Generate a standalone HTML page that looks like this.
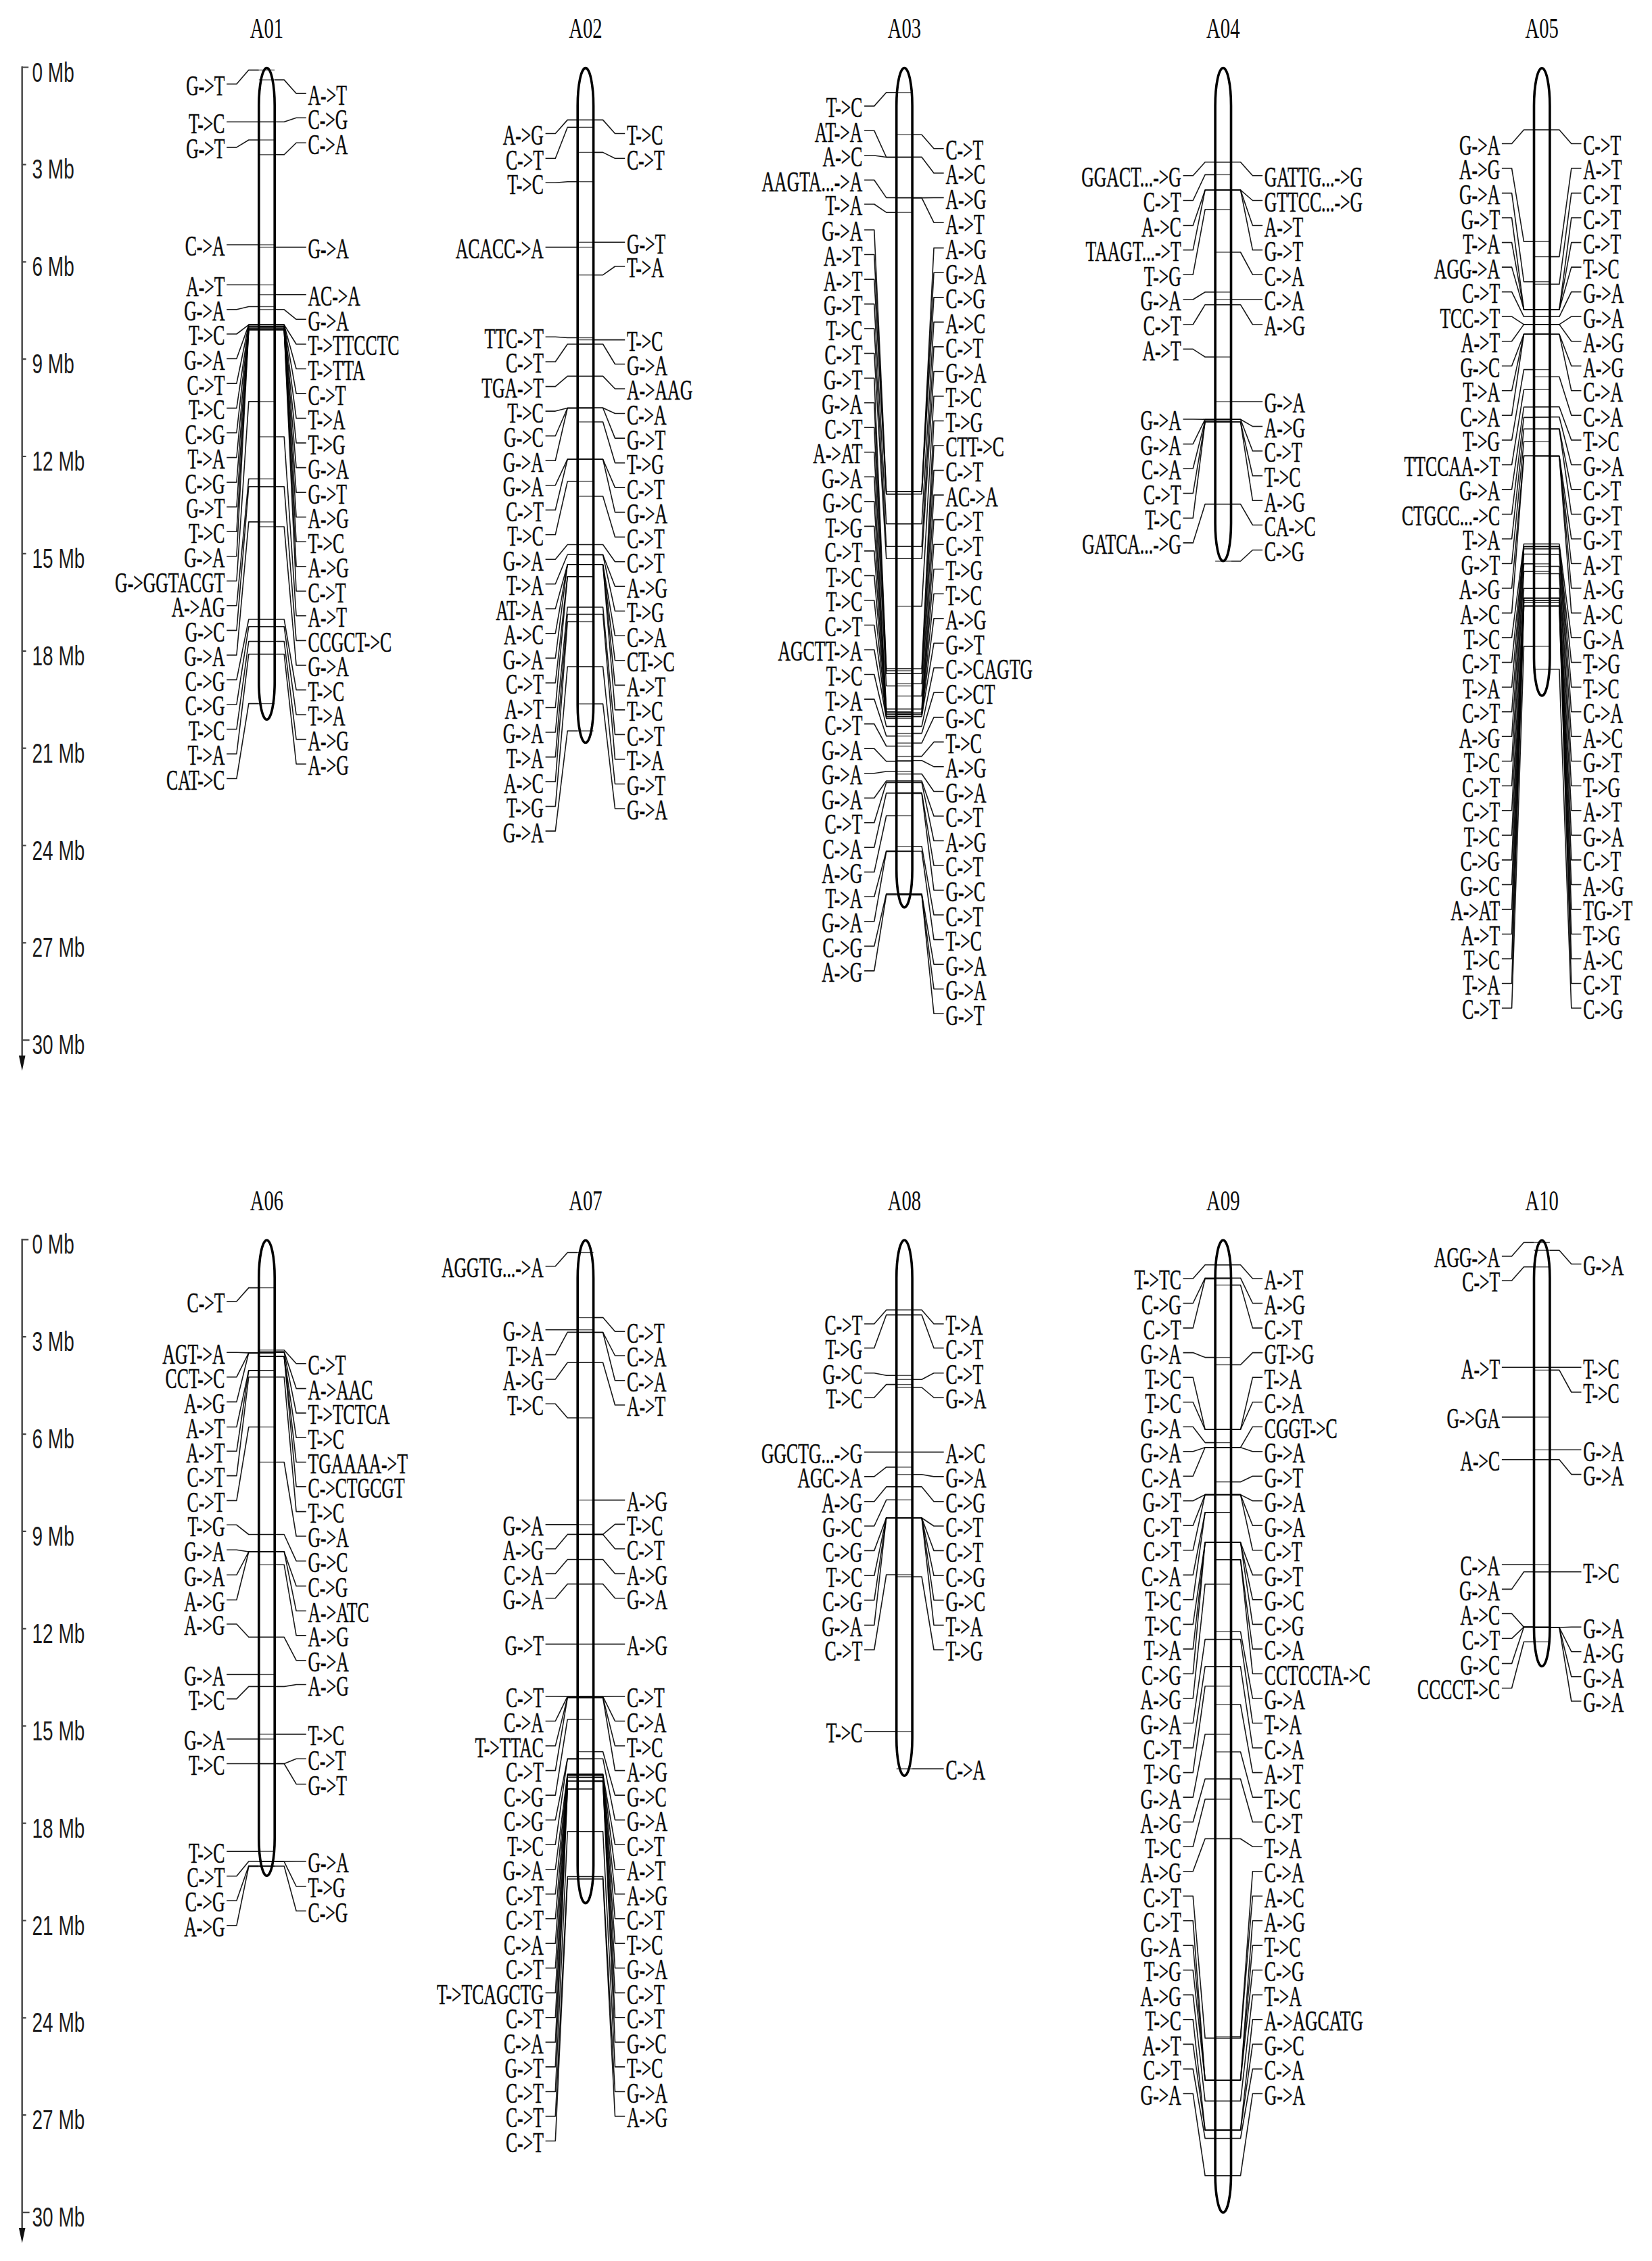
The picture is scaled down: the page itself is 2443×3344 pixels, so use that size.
<!DOCTYPE html>
<html lang="en"><head><meta charset="utf-8"><title>Chromosome variant map A01-A10</title>
<style>html,body{margin:0;padding:0;background:#fff}svg{display:block}.lb{font-family:"Liberation Serif","DejaVu Serif",serif;font-size:41.2px;fill:#0a0a0a;stroke:#0a0a0a;stroke-width:0.5px}.ti{font-family:"Liberation Serif","DejaVu Serif",serif;font-size:42.5px;fill:#0a0a0a}.ax{font-family:"Liberation Sans","DejaVu Sans",sans-serif;font-size:40px;fill:#1c1c1c}.cn{fill:none;stroke:#000;stroke-width:1.6;stroke-linejoin:round;stroke-opacity:0.9}.in{fill:none;stroke:#000;stroke-width:1.4;stroke-opacity:0.7}.ch{fill:none;stroke:#000;stroke-width:3.6}</style></head><body>
<svg width="2443" height="3344" viewBox="0 0 2443 3344">
<rect width="2443" height="3344" fill="#fff"/>
<g>
<g class="axis">
<path d="M32.7 98.3 V1564.3" fill="none" stroke="#555" stroke-width="2.7"/>
<path d="M32.7 99.5 H42.2 M32.7 243.4 H38.6 M32.7 387.3 H38.6 M32.7 531.1 H38.6 M32.7 675 H38.6 M32.7 818.9 H38.6 M32.7 962.8 H38.6 M32.7 1106.7 H38.6 M32.7 1250.5 H38.6 M32.7 1394.4 H38.6 M32.7 1538.3 H43.6" fill="none" stroke="#444" stroke-width="2.2"/>
<path d="M27.9 1561.3 L37.5 1561.3 L32.7 1583.8 Z" fill="#111"/>
<text class="ax" transform="translate(47.5 120.5) scale(0.7 1)">0 Mb</text>
<text class="ax" transform="translate(47.5 264.4) scale(0.7 1)">3 Mb</text>
<text class="ax" transform="translate(47.5 408.3) scale(0.7 1)">6 Mb</text>
<text class="ax" transform="translate(47.5 552.1) scale(0.7 1)">9 Mb</text>
<text class="ax" transform="translate(47.5 696) scale(0.7 1)">12 Mb</text>
<text class="ax" transform="translate(47.5 839.9) scale(0.7 1)">15 Mb</text>
<text class="ax" transform="translate(47.5 983.8) scale(0.7 1)">18 Mb</text>
<text class="ax" transform="translate(47.5 1127.7) scale(0.7 1)">21 Mb</text>
<text class="ax" transform="translate(47.5 1271.5) scale(0.7 1)">24 Mb</text>
<text class="ax" transform="translate(47.5 1415.4) scale(0.7 1)">27 Mb</text>
<text class="ax" transform="translate(47.5 1559.3) scale(0.7 1)">30 Mb</text>
</g>
<g class="axis">
<path d="M32.7 1832.1 V3298.1" fill="none" stroke="#555" stroke-width="2.7"/>
<path d="M32.7 1833.3 H42.2 M32.7 1977.2 H38.6 M32.7 2121.1 H38.6 M32.7 2264.9 H38.6 M32.7 2408.8 H38.6 M32.7 2552.7 H38.6 M32.7 2696.6 H38.6 M32.7 2840.5 H38.6 M32.7 2984.3 H38.6 M32.7 3128.2 H38.6 M32.7 3272.1 H43.6" fill="none" stroke="#444" stroke-width="2.2"/>
<path d="M27.9 3295.1 L37.5 3295.1 L32.7 3317.6 Z" fill="#111"/>
<text class="ax" transform="translate(47.5 1854.3) scale(0.7 1)">0 Mb</text>
<text class="ax" transform="translate(47.5 1998.2) scale(0.7 1)">3 Mb</text>
<text class="ax" transform="translate(47.5 2142.1) scale(0.7 1)">6 Mb</text>
<text class="ax" transform="translate(47.5 2285.9) scale(0.7 1)">9 Mb</text>
<text class="ax" transform="translate(47.5 2429.8) scale(0.7 1)">12 Mb</text>
<text class="ax" transform="translate(47.5 2573.7) scale(0.7 1)">15 Mb</text>
<text class="ax" transform="translate(47.5 2717.6) scale(0.7 1)">18 Mb</text>
<text class="ax" transform="translate(47.5 2861.5) scale(0.7 1)">21 Mb</text>
<text class="ax" transform="translate(47.5 3005.3) scale(0.7 1)">24 Mb</text>
<text class="ax" transform="translate(47.5 3149.2) scale(0.7 1)">27 Mb</text>
<text class="ax" transform="translate(47.5 3293.1) scale(0.7 1)">30 Mb</text>
</g>
<g class="chrom" id="A01">
<text class="ti" text-anchor="middle" transform="translate(394.5 55.8) scale(0.675 1)">A01</text>
<g class="in"><path d="M382.8 103.6H406.2"/><path d="M382.8 180.3H406.2"/><path d="M382.8 207H406.2"/><path d="M382.8 362H406.2"/><path d="M382.8 421.3H406.2"/><path d="M382.8 453.5H406.2"/><path d="M382.8 480.4H406.2"/><path d="M382.8 480.4H406.2"/><path d="M382.8 480.4H406.2"/><path d="M382.8 482.8H406.2"/><path d="M382.8 482.8H406.2"/><path d="M382.8 485.2H406.2"/><path d="M382.8 485.2H406.2"/><path d="M382.8 487.6H406.2"/><path d="M382.8 487.6H406.2"/><path d="M382.8 487.6H406.2"/><path d="M382.8 593.9H406.2"/><path d="M382.8 708.2H406.2"/><path d="M382.8 719.8H406.2"/><path d="M382.8 771.9H406.2"/><path d="M382.8 916H406.2"/><path d="M382.8 926.8H406.2"/><path d="M382.8 948.6H406.2"/><path d="M382.8 967.5H406.2"/><path d="M382.8 1040.6H406.2"/><path d="M382.8 118.1H406.2"/><path d="M382.8 180.3H406.2"/><path d="M382.8 228.8H406.2"/><path d="M382.8 365.6H406.2"/><path d="M382.8 435.8H406.2"/><path d="M382.8 457.8H406.2"/><path d="M382.8 480.4H406.2"/><path d="M382.8 480.4H406.2"/><path d="M382.8 480.4H406.2"/><path d="M382.8 482.8H406.2"/><path d="M382.8 482.8H406.2"/><path d="M382.8 482.8H406.2"/><path d="M382.8 485.2H406.2"/><path d="M382.8 485.2H406.2"/><path d="M382.8 487.6H406.2"/><path d="M382.8 487.6H406.2"/><path d="M382.8 487.6H406.2"/><path d="M382.8 646H406.2"/><path d="M382.8 719.8H406.2"/><path d="M382.8 779H406.2"/><path d="M382.8 916H406.2"/><path d="M382.8 926.8H406.2"/><path d="M382.8 948.6H406.2"/><path d="M382.8 967.5H406.2"/></g>
<g class="cn"><path d="M335.2 124.2H349.9L367.8 103.6H382.8"/><path d="M335.2 180.3H349.9L367.8 180.3H382.8"/><path d="M335.2 217.9H349.9L367.8 207H382.8"/><path d="M335.2 362H349.9L367.8 362H382.8"/><path d="M335.2 421.3H349.9L367.8 421.3H382.8"/><path d="M335.2 457.8H349.9L367.8 453.5H382.8"/><path d="M335.2 494H349.9L367.8 480.4H382.8"/><path d="M335.2 530.5H349.9L367.8 480.4H382.8"/><path d="M335.2 567.1H349.9L367.8 480.4H382.8"/><path d="M335.2 603.6H349.9L367.8 482.8H382.8"/><path d="M335.2 640.1H349.9L367.8 482.8H382.8"/><path d="M335.2 676.6H349.9L367.8 485.2H382.8"/><path d="M335.2 713.2H349.9L367.8 485.2H382.8"/><path d="M335.2 749.7H349.9L367.8 487.6H382.8"/><path d="M335.2 786.2H349.9L367.8 487.6H382.8"/><path d="M335.2 822.8H349.9L367.8 487.6H382.8"/><path d="M335.2 859.3H349.9L367.8 593.9H382.8"/><path d="M335.2 895.8H349.9L367.8 708.2H382.8"/><path d="M335.2 932.4H349.9L367.8 719.8H382.8"/><path d="M335.2 968.9H349.9L367.8 771.9H382.8"/><path d="M335.2 1005.4H349.9L367.8 916H382.8"/><path d="M335.2 1042H349.9L367.8 926.8H382.8"/><path d="M335.2 1078.5H349.9L367.8 948.6H382.8"/><path d="M335.2 1115H349.9L367.8 967.5H382.8"/><path d="M335.2 1151.5H349.9L367.8 1040.6H382.8"/><path d="M452.8 138.2H438.1L420.2 118.1H406.2"/><path d="M452.8 174.3H438.1L420.2 180.3H406.2"/><path d="M452.8 211.3H438.1L420.2 228.8H406.2"/><path d="M452.8 365.6H438.1L420.2 365.6H406.2"/><path d="M452.8 435.8H438.1L420.2 435.8H406.2"/><path d="M452.8 472.3H438.1L420.2 457.8H406.2"/><path d="M452.8 509H438.1L420.2 480.4H406.2"/><path d="M452.8 545.5H438.1L420.2 480.4H406.2"/><path d="M452.8 582.1H438.1L420.2 480.4H406.2"/><path d="M452.8 618.6H438.1L420.2 482.8H406.2"/><path d="M452.8 655.1H438.1L420.2 482.8H406.2"/><path d="M452.8 691.6H438.1L420.2 482.8H406.2"/><path d="M452.8 728.2H438.1L420.2 485.2H406.2"/><path d="M452.8 764.7H438.1L420.2 485.2H406.2"/><path d="M452.8 801.2H438.1L420.2 487.6H406.2"/><path d="M452.8 837.8H438.1L420.2 487.6H406.2"/><path d="M452.8 874.3H438.1L420.2 487.6H406.2"/><path d="M452.8 910.8H438.1L420.2 646H406.2"/><path d="M452.8 947.4H438.1L420.2 719.8H406.2"/><path d="M452.8 983.9H438.1L420.2 779H406.2"/><path d="M452.8 1020.4H438.1L420.2 916H406.2"/><path d="M452.8 1057H438.1L420.2 926.8H406.2"/><path d="M452.8 1093.5H438.1L420.2 948.6H406.2"/><path d="M452.8 1130H438.1L420.2 967.5H406.2"/></g>
<path class="ch" d="M382.8 156.5A11.7 56 0 0 1 406.2 156.5V1008.2A11.7 56 0 0 1 382.8 1008.2Z"/>
<text class="lb" text-anchor="end" transform="translate(332.5 140.6) scale(0.6245 1)">G-&gt;T</text>
<text class="lb" text-anchor="end" transform="translate(332.5 196.7) scale(0.6245 1)">T-&gt;C</text>
<text class="lb" text-anchor="end" transform="translate(332.5 234.3) scale(0.6245 1)">G-&gt;T</text>
<text class="lb" text-anchor="end" transform="translate(332.5 378.4) scale(0.6245 1)">C-&gt;A</text>
<text class="lb" text-anchor="end" transform="translate(332.5 437.7) scale(0.6245 1)">A-&gt;T</text>
<text class="lb" text-anchor="end" transform="translate(332.5 474.2) scale(0.6245 1)">G-&gt;A</text>
<text class="lb" text-anchor="end" transform="translate(332.5 510.4) scale(0.6245 1)">T-&gt;C</text>
<text class="lb" text-anchor="end" transform="translate(332.5 546.9) scale(0.6245 1)">G-&gt;A</text>
<text class="lb" text-anchor="end" transform="translate(332.5 583.5) scale(0.6245 1)">C-&gt;T</text>
<text class="lb" text-anchor="end" transform="translate(332.5 620) scale(0.6245 1)">T-&gt;C</text>
<text class="lb" text-anchor="end" transform="translate(332.5 656.5) scale(0.6245 1)">C-&gt;G</text>
<text class="lb" text-anchor="end" transform="translate(332.5 693) scale(0.6245 1)">T-&gt;A</text>
<text class="lb" text-anchor="end" transform="translate(332.5 729.6) scale(0.6245 1)">C-&gt;G</text>
<text class="lb" text-anchor="end" transform="translate(332.5 766.1) scale(0.6245 1)">G-&gt;T</text>
<text class="lb" text-anchor="end" transform="translate(332.5 802.6) scale(0.6245 1)">T-&gt;C</text>
<text class="lb" text-anchor="end" transform="translate(332.5 839.2) scale(0.6245 1)">G-&gt;A</text>
<text class="lb" text-anchor="end" transform="translate(332.5 875.7) scale(0.6245 1)">G-&gt;GGTACGT</text>
<text class="lb" text-anchor="end" transform="translate(332.5 912.2) scale(0.6245 1)">A-&gt;AG</text>
<text class="lb" text-anchor="end" transform="translate(332.5 948.8) scale(0.6245 1)">G-&gt;C</text>
<text class="lb" text-anchor="end" transform="translate(332.5 985.3) scale(0.6245 1)">G-&gt;A</text>
<text class="lb" text-anchor="end" transform="translate(332.5 1021.8) scale(0.6245 1)">C-&gt;G</text>
<text class="lb" text-anchor="end" transform="translate(332.5 1058.4) scale(0.6245 1)">C-&gt;G</text>
<text class="lb" text-anchor="end" transform="translate(332.5 1094.9) scale(0.6245 1)">T-&gt;C</text>
<text class="lb" text-anchor="end" transform="translate(332.5 1131.4) scale(0.6245 1)">T-&gt;A</text>
<text class="lb" text-anchor="end" transform="translate(332.5 1167.9) scale(0.6245 1)">CAT-&gt;C</text>
<text class="lb" transform="translate(455.5 154.6) scale(0.6245 1)">A-&gt;T</text>
<text class="lb" transform="translate(455.5 190.7) scale(0.6245 1)">C-&gt;G</text>
<text class="lb" transform="translate(455.5 227.7) scale(0.6245 1)">C-&gt;A</text>
<text class="lb" transform="translate(455.5 382) scale(0.6245 1)">G-&gt;A</text>
<text class="lb" transform="translate(455.5 452.2) scale(0.6245 1)">AC-&gt;A</text>
<text class="lb" transform="translate(455.5 488.7) scale(0.6245 1)">G-&gt;A</text>
<text class="lb" transform="translate(455.5 525.4) scale(0.6245 1)">T-&gt;TTCCTC</text>
<text class="lb" transform="translate(455.5 561.9) scale(0.6245 1)">T-&gt;TTA</text>
<text class="lb" transform="translate(455.5 598.5) scale(0.6245 1)">C-&gt;T</text>
<text class="lb" transform="translate(455.5 635) scale(0.6245 1)">T-&gt;A</text>
<text class="lb" transform="translate(455.5 671.5) scale(0.6245 1)">T-&gt;G</text>
<text class="lb" transform="translate(455.5 708) scale(0.6245 1)">G-&gt;A</text>
<text class="lb" transform="translate(455.5 744.6) scale(0.6245 1)">G-&gt;T</text>
<text class="lb" transform="translate(455.5 781.1) scale(0.6245 1)">A-&gt;G</text>
<text class="lb" transform="translate(455.5 817.6) scale(0.6245 1)">T-&gt;C</text>
<text class="lb" transform="translate(455.5 854.2) scale(0.6245 1)">A-&gt;G</text>
<text class="lb" transform="translate(455.5 890.7) scale(0.6245 1)">C-&gt;T</text>
<text class="lb" transform="translate(455.5 927.2) scale(0.6245 1)">A-&gt;T</text>
<text class="lb" transform="translate(455.5 963.8) scale(0.6245 1)">CCGCT-&gt;C</text>
<text class="lb" transform="translate(455.5 1000.3) scale(0.6245 1)">G-&gt;A</text>
<text class="lb" transform="translate(455.5 1036.8) scale(0.6245 1)">T-&gt;C</text>
<text class="lb" transform="translate(455.5 1073.4) scale(0.6245 1)">T-&gt;A</text>
<text class="lb" transform="translate(455.5 1109.9) scale(0.6245 1)">A-&gt;G</text>
<text class="lb" transform="translate(455.5 1146.4) scale(0.6245 1)">A-&gt;G</text>
</g>
<g class="chrom" id="A02">
<text class="ti" text-anchor="middle" transform="translate(865.9 55.8) scale(0.675 1)">A02</text>
<g class="in"><path d="M854.2 177.4H877.6"/><path d="M854.2 188.3H877.6"/><path d="M854.2 268.7H877.6"/><path d="M854.2 365.6H877.6"/><path d="M854.2 499.5H877.6"/><path d="M854.2 509H877.6"/><path d="M854.2 556.4H877.6"/><path d="M854.2 603.5H877.6"/><path d="M854.2 603.5H877.6"/><path d="M854.2 603.5H877.6"/><path d="M854.2 679.2H877.6"/><path d="M854.2 679.2H877.6"/><path d="M854.2 712H877.6"/><path d="M854.2 805.5H877.6"/><path d="M854.2 820.3H877.6"/><path d="M854.2 835H877.6"/><path d="M854.2 835H877.6"/><path d="M854.2 835H877.6"/><path d="M854.2 852.8H877.6"/><path d="M854.2 852.8H877.6"/><path d="M854.2 898H877.6"/><path d="M854.2 908.5H877.6"/><path d="M854.2 919.5H877.6"/><path d="M854.2 986H877.6"/><path d="M854.2 1081H877.6"/><path d="M854.2 177.4H877.6"/><path d="M854.2 225.4H877.6"/><path d="M854.2 358.3H877.6"/><path d="M854.2 406.7H877.6"/><path d="M854.2 502.6H877.6"/><path d="M854.2 509H877.6"/><path d="M854.2 556.4H877.6"/><path d="M854.2 603.2H877.6"/><path d="M854.2 603.2H877.6"/><path d="M854.2 624H877.6"/><path d="M854.2 679.2H877.6"/><path d="M854.2 679.2H877.6"/><path d="M854.2 734H877.6"/><path d="M854.2 805.5H877.6"/><path d="M854.2 820.5H877.6"/><path d="M854.2 820.5H877.6"/><path d="M854.2 835.2H877.6"/><path d="M854.2 835.2H877.6"/><path d="M854.2 835.2H877.6"/><path d="M854.2 835.2H877.6"/><path d="M854.2 898H877.6"/><path d="M854.2 908.5H877.6"/><path d="M854.2 986H877.6"/><path d="M854.2 1041H877.6"/></g>
<g class="cn"><path d="M806.6 197.5H821.3L839.2 177.4H854.2"/><path d="M806.6 234.3H821.3L839.2 188.3H854.2"/><path d="M806.6 270.2H821.3L839.2 268.7H854.2"/><path d="M806.6 365.6H821.3L839.2 365.6H854.2"/><path d="M806.6 498.3H821.3L839.2 499.5H854.2"/><path d="M806.6 535H821.3L839.2 509H854.2"/><path d="M806.6 571.6H821.3L839.2 556.4H854.2"/><path d="M806.6 608.1H821.3L839.2 603.5H854.2"/><path d="M806.6 644.7H821.3L839.2 603.5H854.2"/><path d="M806.6 681.2H821.3L839.2 603.5H854.2"/><path d="M806.6 717.7H821.3L839.2 679.2H854.2"/><path d="M806.6 754.2H821.3L839.2 679.2H854.2"/><path d="M806.6 790.8H821.3L839.2 712H854.2"/><path d="M806.6 827.3H821.3L839.2 805.5H854.2"/><path d="M806.6 863.8H821.3L839.2 820.3H854.2"/><path d="M806.6 900.4H821.3L839.2 835H854.2"/><path d="M806.6 936.9H821.3L839.2 835H854.2"/><path d="M806.6 973.4H821.3L839.2 835H854.2"/><path d="M806.6 1010H821.3L839.2 852.8H854.2"/><path d="M806.6 1046.5H821.3L839.2 852.8H854.2"/><path d="M806.6 1083H821.3L839.2 898H854.2"/><path d="M806.6 1119.6H821.3L839.2 908.5H854.2"/><path d="M806.6 1156.1H821.3L839.2 919.5H854.2"/><path d="M806.6 1192.6H821.3L839.2 986H854.2"/><path d="M806.6 1229.1H821.3L839.2 1081H854.2"/><path d="M924.2 197.5H909.5L891.6 177.4H877.6"/><path d="M924.2 234.3H909.5L891.6 225.4H877.6"/><path d="M924.2 358.3H909.5L891.6 358.3H877.6"/><path d="M924.2 394H909.5L891.6 406.7H877.6"/><path d="M924.2 502.6H909.5L891.6 502.6H877.6"/><path d="M924.2 538.5H909.5L891.6 509H877.6"/><path d="M924.2 575H909.5L891.6 556.4H877.6"/><path d="M924.2 611.5H909.5L891.6 603.2H877.6"/><path d="M924.2 648.1H909.5L891.6 603.2H877.6"/><path d="M924.2 684.6H909.5L891.6 624H877.6"/><path d="M924.2 721.1H909.5L891.6 679.2H877.6"/><path d="M924.2 757.6H909.5L891.6 679.2H877.6"/><path d="M924.2 794.2H909.5L891.6 734H877.6"/><path d="M924.2 830.7H909.5L891.6 805.5H877.6"/><path d="M924.2 867.2H909.5L891.6 820.5H877.6"/><path d="M924.2 903.8H909.5L891.6 820.5H877.6"/><path d="M924.2 940.3H909.5L891.6 835.2H877.6"/><path d="M924.2 976.8H909.5L891.6 835.2H877.6"/><path d="M924.2 1013.4H909.5L891.6 835.2H877.6"/><path d="M924.2 1049.9H909.5L891.6 835.2H877.6"/><path d="M924.2 1086.4H909.5L891.6 898H877.6"/><path d="M924.2 1123H909.5L891.6 908.5H877.6"/><path d="M924.2 1159.5H909.5L891.6 986H877.6"/><path d="M924.2 1196H909.5L891.6 1041H877.6"/></g>
<path class="ch" d="M854.2 156.5A11.7 56 0 0 1 877.6 156.5V1042.7A11.7 56 0 0 1 854.2 1042.7Z"/>
<text class="lb" text-anchor="end" transform="translate(803.9 213.9) scale(0.6245 1)">A-&gt;G</text>
<text class="lb" text-anchor="end" transform="translate(803.9 250.7) scale(0.6245 1)">C-&gt;T</text>
<text class="lb" text-anchor="end" transform="translate(803.9 286.6) scale(0.6245 1)">T-&gt;C</text>
<text class="lb" text-anchor="end" transform="translate(803.9 382) scale(0.6245 1)">ACACC-&gt;A</text>
<text class="lb" text-anchor="end" transform="translate(803.9 514.7) scale(0.6245 1)">TTC-&gt;T</text>
<text class="lb" text-anchor="end" transform="translate(803.9 551.4) scale(0.6245 1)">C-&gt;T</text>
<text class="lb" text-anchor="end" transform="translate(803.9 588) scale(0.6245 1)">TGA-&gt;T</text>
<text class="lb" text-anchor="end" transform="translate(803.9 624.5) scale(0.6245 1)">T-&gt;C</text>
<text class="lb" text-anchor="end" transform="translate(803.9 661.1) scale(0.6245 1)">G-&gt;C</text>
<text class="lb" text-anchor="end" transform="translate(803.9 697.6) scale(0.6245 1)">G-&gt;A</text>
<text class="lb" text-anchor="end" transform="translate(803.9 734.1) scale(0.6245 1)">G-&gt;A</text>
<text class="lb" text-anchor="end" transform="translate(803.9 770.6) scale(0.6245 1)">C-&gt;T</text>
<text class="lb" text-anchor="end" transform="translate(803.9 807.2) scale(0.6245 1)">T-&gt;C</text>
<text class="lb" text-anchor="end" transform="translate(803.9 843.7) scale(0.6245 1)">G-&gt;A</text>
<text class="lb" text-anchor="end" transform="translate(803.9 880.2) scale(0.6245 1)">T-&gt;A</text>
<text class="lb" text-anchor="end" transform="translate(803.9 916.8) scale(0.6245 1)">AT-&gt;A</text>
<text class="lb" text-anchor="end" transform="translate(803.9 953.3) scale(0.6245 1)">A-&gt;C</text>
<text class="lb" text-anchor="end" transform="translate(803.9 989.8) scale(0.6245 1)">G-&gt;A</text>
<text class="lb" text-anchor="end" transform="translate(803.9 1026.4) scale(0.6245 1)">C-&gt;T</text>
<text class="lb" text-anchor="end" transform="translate(803.9 1062.9) scale(0.6245 1)">A-&gt;T</text>
<text class="lb" text-anchor="end" transform="translate(803.9 1099.4) scale(0.6245 1)">G-&gt;A</text>
<text class="lb" text-anchor="end" transform="translate(803.9 1136) scale(0.6245 1)">T-&gt;A</text>
<text class="lb" text-anchor="end" transform="translate(803.9 1172.5) scale(0.6245 1)">A-&gt;C</text>
<text class="lb" text-anchor="end" transform="translate(803.9 1209) scale(0.6245 1)">T-&gt;G</text>
<text class="lb" text-anchor="end" transform="translate(803.9 1245.5) scale(0.6245 1)">G-&gt;A</text>
<text class="lb" transform="translate(926.9 213.9) scale(0.6245 1)">T-&gt;C</text>
<text class="lb" transform="translate(926.9 250.7) scale(0.6245 1)">C-&gt;T</text>
<text class="lb" transform="translate(926.9 374.7) scale(0.6245 1)">G-&gt;T</text>
<text class="lb" transform="translate(926.9 410.4) scale(0.6245 1)">T-&gt;A</text>
<text class="lb" transform="translate(926.9 519) scale(0.6245 1)">T-&gt;C</text>
<text class="lb" transform="translate(926.9 554.9) scale(0.6245 1)">G-&gt;A</text>
<text class="lb" transform="translate(926.9 591.4) scale(0.6245 1)">A-&gt;AAG</text>
<text class="lb" transform="translate(926.9 627.9) scale(0.6245 1)">C-&gt;A</text>
<text class="lb" transform="translate(926.9 664.5) scale(0.6245 1)">G-&gt;T</text>
<text class="lb" transform="translate(926.9 701) scale(0.6245 1)">T-&gt;G</text>
<text class="lb" transform="translate(926.9 737.5) scale(0.6245 1)">C-&gt;T</text>
<text class="lb" transform="translate(926.9 774) scale(0.6245 1)">G-&gt;A</text>
<text class="lb" transform="translate(926.9 810.6) scale(0.6245 1)">C-&gt;T</text>
<text class="lb" transform="translate(926.9 847.1) scale(0.6245 1)">C-&gt;T</text>
<text class="lb" transform="translate(926.9 883.6) scale(0.6245 1)">A-&gt;G</text>
<text class="lb" transform="translate(926.9 920.2) scale(0.6245 1)">T-&gt;G</text>
<text class="lb" transform="translate(926.9 956.7) scale(0.6245 1)">C-&gt;A</text>
<text class="lb" transform="translate(926.9 993.2) scale(0.6245 1)">CT-&gt;C</text>
<text class="lb" transform="translate(926.9 1029.8) scale(0.6245 1)">A-&gt;T</text>
<text class="lb" transform="translate(926.9 1066.3) scale(0.6245 1)">T-&gt;C</text>
<text class="lb" transform="translate(926.9 1102.8) scale(0.6245 1)">C-&gt;T</text>
<text class="lb" transform="translate(926.9 1139.4) scale(0.6245 1)">T-&gt;A</text>
<text class="lb" transform="translate(926.9 1175.9) scale(0.6245 1)">G-&gt;T</text>
<text class="lb" transform="translate(926.9 1212.4) scale(0.6245 1)">G-&gt;A</text>
</g>
<g class="chrom" id="A03">
<text class="ti" text-anchor="middle" transform="translate(1337.4 55.8) scale(0.675 1)">A03</text>
<g class="in"><path d="M1325.7 136.8H1349.1"/><path d="M1325.7 232.5H1349.1"/><path d="M1325.7 232.5H1349.1"/><path d="M1325.7 292.4H1349.1"/><path d="M1325.7 314.2H1349.1"/><path d="M1325.7 727H1349.1"/><path d="M1325.7 730.7H1349.1"/><path d="M1325.7 730.7H1349.1"/><path d="M1325.7 774.8H1349.1"/><path d="M1325.7 808.2H1349.1"/><path d="M1325.7 826.3H1349.1"/><path d="M1325.7 989H1349.1"/><path d="M1325.7 992H1349.1"/><path d="M1325.7 996.3H1349.1"/><path d="M1325.7 1014.5H1349.1"/><path d="M1325.7 1048.6H1349.1"/><path d="M1325.7 1053H1349.1"/><path d="M1325.7 1053H1349.1"/><path d="M1325.7 1056.3H1349.1"/><path d="M1325.7 1056.3H1349.1"/><path d="M1325.7 1059.6H1349.1"/><path d="M1325.7 1059.6H1349.1"/><path d="M1325.7 1062.4H1349.1"/><path d="M1325.7 1074.4H1349.1"/><path d="M1325.7 1088.6H1349.1"/><path d="M1325.7 1103.5H1349.1"/><path d="M1325.7 1126H1349.1"/><path d="M1325.7 1141H1349.1"/><path d="M1325.7 1155H1349.1"/><path d="M1325.7 1157.4H1349.1"/><path d="M1325.7 1173H1349.1"/><path d="M1325.7 1206.5H1349.1"/><path d="M1325.7 1258.5H1349.1"/><path d="M1325.7 1259.5H1349.1"/><path d="M1325.7 1322H1349.1"/><path d="M1325.7 1323.5H1349.1"/><path d="M1325.7 199.2H1349.1"/><path d="M1325.7 232.4H1349.1"/><path d="M1325.7 292.6H1349.1"/><path d="M1325.7 292.6H1349.1"/><path d="M1325.7 727H1349.1"/><path d="M1325.7 727H1349.1"/><path d="M1325.7 730.7H1349.1"/><path d="M1325.7 774.8H1349.1"/><path d="M1325.7 808.2H1349.1"/><path d="M1325.7 826.3H1349.1"/><path d="M1325.7 896.6H1349.1"/><path d="M1325.7 989H1349.1"/><path d="M1325.7 996.3H1349.1"/><path d="M1325.7 1011.2H1349.1"/><path d="M1325.7 1029.4H1349.1"/><path d="M1325.7 1048.6H1349.1"/><path d="M1325.7 1054.5H1349.1"/><path d="M1325.7 1054.5H1349.1"/><path d="M1325.7 1057.2H1349.1"/><path d="M1325.7 1057.2H1349.1"/><path d="M1325.7 1059.9H1349.1"/><path d="M1325.7 1074.4H1349.1"/><path d="M1325.7 1084.6H1349.1"/><path d="M1325.7 1099H1349.1"/><path d="M1325.7 1118.6H1349.1"/><path d="M1325.7 1124.7H1349.1"/><path d="M1325.7 1144.8H1349.1"/><path d="M1325.7 1155H1349.1"/><path d="M1325.7 1157.4H1349.1"/><path d="M1325.7 1172.5H1349.1"/><path d="M1325.7 1173.5H1349.1"/><path d="M1325.7 1251.8H1349.1"/><path d="M1325.7 1259H1349.1"/><path d="M1325.7 1322H1349.1"/><path d="M1325.7 1323.4H1349.1"/><path d="M1325.7 1323.4H1349.1"/></g>
<g class="cn"><path d="M1278.1 156.9H1292.8L1310.7 136.8H1325.7"/><path d="M1278.1 193.2H1292.8L1310.7 232.5H1325.7"/><path d="M1278.1 230H1292.8L1310.7 232.5H1325.7"/><path d="M1278.1 266.3H1292.8L1310.7 292.4H1325.7"/><path d="M1278.1 302H1292.8L1310.7 314.2H1325.7"/><path d="M1278.1 340H1292.8L1310.7 727H1325.7"/><path d="M1278.1 376.5H1292.8L1310.7 730.7H1325.7"/><path d="M1278.1 413.1H1292.8L1310.7 730.7H1325.7"/><path d="M1278.1 449.6H1292.8L1310.7 774.8H1325.7"/><path d="M1278.1 486.1H1292.8L1310.7 808.2H1325.7"/><path d="M1278.1 522.6H1292.8L1310.7 826.3H1325.7"/><path d="M1278.1 559.2H1292.8L1310.7 989H1325.7"/><path d="M1278.1 595.7H1292.8L1310.7 992H1325.7"/><path d="M1278.1 632.2H1292.8L1310.7 996.3H1325.7"/><path d="M1278.1 668.8H1292.8L1310.7 1014.5H1325.7"/><path d="M1278.1 705.3H1292.8L1310.7 1048.6H1325.7"/><path d="M1278.1 741.8H1292.8L1310.7 1053H1325.7"/><path d="M1278.1 778.4H1292.8L1310.7 1053H1325.7"/><path d="M1278.1 814.9H1292.8L1310.7 1056.3H1325.7"/><path d="M1278.1 851.4H1292.8L1310.7 1056.3H1325.7"/><path d="M1278.1 888H1292.8L1310.7 1059.6H1325.7"/><path d="M1278.1 924.5H1292.8L1310.7 1059.6H1325.7"/><path d="M1278.1 961H1292.8L1310.7 1062.4H1325.7"/><path d="M1278.1 997.5H1292.8L1310.7 1074.4H1325.7"/><path d="M1278.1 1034.1H1292.8L1310.7 1088.6H1325.7"/><path d="M1278.1 1070.6H1292.8L1310.7 1103.5H1325.7"/><path d="M1278.1 1107.1H1292.8L1310.7 1126H1325.7"/><path d="M1278.1 1143.7H1292.8L1310.7 1141H1325.7"/><path d="M1278.1 1180.2H1292.8L1310.7 1155H1325.7"/><path d="M1278.1 1216.7H1292.8L1310.7 1157.4H1325.7"/><path d="M1278.1 1253.2H1292.8L1310.7 1173H1325.7"/><path d="M1278.1 1289.8H1292.8L1310.7 1206.5H1325.7"/><path d="M1278.1 1326.3H1292.8L1310.7 1258.5H1325.7"/><path d="M1278.1 1362.8H1292.8L1310.7 1259.5H1325.7"/><path d="M1278.1 1399.4H1292.8L1310.7 1322H1325.7"/><path d="M1278.1 1435.9H1292.8L1310.7 1323.5H1325.7"/><path d="M1395.7 219.8H1381L1363.1 199.2H1349.1"/><path d="M1395.7 256H1381L1363.1 232.4H1349.1"/><path d="M1395.7 292.4H1381L1363.1 292.6H1349.1"/><path d="M1395.7 329.2H1381L1363.1 292.6H1349.1"/><path d="M1395.7 366.8H1381L1363.1 727H1349.1"/><path d="M1395.7 403.3H1381L1363.1 727H1349.1"/><path d="M1395.7 439.9H1381L1363.1 730.7H1349.1"/><path d="M1395.7 476.4H1381L1363.1 774.8H1349.1"/><path d="M1395.7 512.9H1381L1363.1 808.2H1349.1"/><path d="M1395.7 549.5H1381L1363.1 826.3H1349.1"/><path d="M1395.7 586H1381L1363.1 896.6H1349.1"/><path d="M1395.7 622.5H1381L1363.1 989H1349.1"/><path d="M1395.7 659H1381L1363.1 996.3H1349.1"/><path d="M1395.7 695.6H1381L1363.1 1011.2H1349.1"/><path d="M1395.7 732.1H1381L1363.1 1029.4H1349.1"/><path d="M1395.7 768.6H1381L1363.1 1048.6H1349.1"/><path d="M1395.7 805.2H1381L1363.1 1054.5H1349.1"/><path d="M1395.7 841.7H1381L1363.1 1054.5H1349.1"/><path d="M1395.7 878.2H1381L1363.1 1057.2H1349.1"/><path d="M1395.7 914.8H1381L1363.1 1057.2H1349.1"/><path d="M1395.7 951.3H1381L1363.1 1059.9H1349.1"/><path d="M1395.7 987.8H1381L1363.1 1074.4H1349.1"/><path d="M1395.7 1024.3H1381L1363.1 1084.6H1349.1"/><path d="M1395.7 1060.9H1381L1363.1 1099H1349.1"/><path d="M1395.7 1097.4H1381L1363.1 1118.6H1349.1"/><path d="M1395.7 1133.9H1381L1363.1 1124.7H1349.1"/><path d="M1395.7 1170.5H1381L1363.1 1144.8H1349.1"/><path d="M1395.7 1207H1381L1363.1 1155H1349.1"/><path d="M1395.7 1243.5H1381L1363.1 1157.4H1349.1"/><path d="M1395.7 1280H1381L1363.1 1172.5H1349.1"/><path d="M1395.7 1316.6H1381L1363.1 1173.5H1349.1"/><path d="M1395.7 1353.1H1381L1363.1 1251.8H1349.1"/><path d="M1395.7 1389.6H1381L1363.1 1259H1349.1"/><path d="M1395.7 1426.2H1381L1363.1 1322H1349.1"/><path d="M1395.7 1462.7H1381L1363.1 1323.4H1349.1"/><path d="M1395.7 1499.2H1381L1363.1 1323.4H1349.1"/></g>
<path class="ch" d="M1325.7 156.5A11.7 56 0 0 1 1349.1 156.5V1286A11.7 56 0 0 1 1325.7 1286Z"/>
<text class="lb" text-anchor="end" transform="translate(1275.4 173.3) scale(0.6245 1)">T-&gt;C</text>
<text class="lb" text-anchor="end" transform="translate(1275.4 209.6) scale(0.6245 1)">AT-&gt;A</text>
<text class="lb" text-anchor="end" transform="translate(1275.4 246.4) scale(0.6245 1)">A-&gt;C</text>
<text class="lb" text-anchor="end" transform="translate(1275.4 282.7) scale(0.6245 1)">AAGTA...-&gt;A</text>
<text class="lb" text-anchor="end" transform="translate(1275.4 318.4) scale(0.6245 1)">T-&gt;A</text>
<text class="lb" text-anchor="end" transform="translate(1275.4 356.4) scale(0.6245 1)">G-&gt;A</text>
<text class="lb" text-anchor="end" transform="translate(1275.4 392.9) scale(0.6245 1)">A-&gt;T</text>
<text class="lb" text-anchor="end" transform="translate(1275.4 429.5) scale(0.6245 1)">A-&gt;T</text>
<text class="lb" text-anchor="end" transform="translate(1275.4 466) scale(0.6245 1)">G-&gt;T</text>
<text class="lb" text-anchor="end" transform="translate(1275.4 502.5) scale(0.6245 1)">T-&gt;C</text>
<text class="lb" text-anchor="end" transform="translate(1275.4 539) scale(0.6245 1)">C-&gt;T</text>
<text class="lb" text-anchor="end" transform="translate(1275.4 575.6) scale(0.6245 1)">G-&gt;T</text>
<text class="lb" text-anchor="end" transform="translate(1275.4 612.1) scale(0.6245 1)">G-&gt;A</text>
<text class="lb" text-anchor="end" transform="translate(1275.4 648.6) scale(0.6245 1)">C-&gt;T</text>
<text class="lb" text-anchor="end" transform="translate(1275.4 685.2) scale(0.6245 1)">A-&gt;AT</text>
<text class="lb" text-anchor="end" transform="translate(1275.4 721.7) scale(0.6245 1)">G-&gt;A</text>
<text class="lb" text-anchor="end" transform="translate(1275.4 758.2) scale(0.6245 1)">G-&gt;C</text>
<text class="lb" text-anchor="end" transform="translate(1275.4 794.8) scale(0.6245 1)">T-&gt;G</text>
<text class="lb" text-anchor="end" transform="translate(1275.4 831.3) scale(0.6245 1)">C-&gt;T</text>
<text class="lb" text-anchor="end" transform="translate(1275.4 867.8) scale(0.6245 1)">T-&gt;C</text>
<text class="lb" text-anchor="end" transform="translate(1275.4 904.4) scale(0.6245 1)">T-&gt;C</text>
<text class="lb" text-anchor="end" transform="translate(1275.4 940.9) scale(0.6245 1)">C-&gt;T</text>
<text class="lb" text-anchor="end" transform="translate(1275.4 977.4) scale(0.6245 1)">AGCTT-&gt;A</text>
<text class="lb" text-anchor="end" transform="translate(1275.4 1013.9) scale(0.6245 1)">T-&gt;C</text>
<text class="lb" text-anchor="end" transform="translate(1275.4 1050.5) scale(0.6245 1)">T-&gt;A</text>
<text class="lb" text-anchor="end" transform="translate(1275.4 1087) scale(0.6245 1)">C-&gt;T</text>
<text class="lb" text-anchor="end" transform="translate(1275.4 1123.5) scale(0.6245 1)">G-&gt;A</text>
<text class="lb" text-anchor="end" transform="translate(1275.4 1160.1) scale(0.6245 1)">G-&gt;A</text>
<text class="lb" text-anchor="end" transform="translate(1275.4 1196.6) scale(0.6245 1)">G-&gt;A</text>
<text class="lb" text-anchor="end" transform="translate(1275.4 1233.1) scale(0.6245 1)">C-&gt;T</text>
<text class="lb" text-anchor="end" transform="translate(1275.4 1269.6) scale(0.6245 1)">C-&gt;A</text>
<text class="lb" text-anchor="end" transform="translate(1275.4 1306.2) scale(0.6245 1)">A-&gt;G</text>
<text class="lb" text-anchor="end" transform="translate(1275.4 1342.7) scale(0.6245 1)">T-&gt;A</text>
<text class="lb" text-anchor="end" transform="translate(1275.4 1379.2) scale(0.6245 1)">G-&gt;A</text>
<text class="lb" text-anchor="end" transform="translate(1275.4 1415.8) scale(0.6245 1)">C-&gt;G</text>
<text class="lb" text-anchor="end" transform="translate(1275.4 1452.3) scale(0.6245 1)">A-&gt;G</text>
<text class="lb" transform="translate(1398.4 236.2) scale(0.6245 1)">C-&gt;T</text>
<text class="lb" transform="translate(1398.4 272.4) scale(0.6245 1)">A-&gt;C</text>
<text class="lb" transform="translate(1398.4 308.8) scale(0.6245 1)">A-&gt;G</text>
<text class="lb" transform="translate(1398.4 345.6) scale(0.6245 1)">A-&gt;T</text>
<text class="lb" transform="translate(1398.4 383.2) scale(0.6245 1)">A-&gt;G</text>
<text class="lb" transform="translate(1398.4 419.7) scale(0.6245 1)">G-&gt;A</text>
<text class="lb" transform="translate(1398.4 456.3) scale(0.6245 1)">C-&gt;G</text>
<text class="lb" transform="translate(1398.4 492.8) scale(0.6245 1)">A-&gt;C</text>
<text class="lb" transform="translate(1398.4 529.3) scale(0.6245 1)">C-&gt;T</text>
<text class="lb" transform="translate(1398.4 565.9) scale(0.6245 1)">G-&gt;A</text>
<text class="lb" transform="translate(1398.4 602.4) scale(0.6245 1)">T-&gt;C</text>
<text class="lb" transform="translate(1398.4 638.9) scale(0.6245 1)">T-&gt;G</text>
<text class="lb" transform="translate(1398.4 675.4) scale(0.6245 1)">CTT-&gt;C</text>
<text class="lb" transform="translate(1398.4 712) scale(0.6245 1)">C-&gt;T</text>
<text class="lb" transform="translate(1398.4 748.5) scale(0.6245 1)">AC-&gt;A</text>
<text class="lb" transform="translate(1398.4 785) scale(0.6245 1)">C-&gt;T</text>
<text class="lb" transform="translate(1398.4 821.6) scale(0.6245 1)">C-&gt;T</text>
<text class="lb" transform="translate(1398.4 858.1) scale(0.6245 1)">T-&gt;G</text>
<text class="lb" transform="translate(1398.4 894.6) scale(0.6245 1)">T-&gt;C</text>
<text class="lb" transform="translate(1398.4 931.2) scale(0.6245 1)">A-&gt;G</text>
<text class="lb" transform="translate(1398.4 967.7) scale(0.6245 1)">G-&gt;T</text>
<text class="lb" transform="translate(1398.4 1004.2) scale(0.6245 1)">C-&gt;CAGTG</text>
<text class="lb" transform="translate(1398.4 1040.7) scale(0.6245 1)">C-&gt;CT</text>
<text class="lb" transform="translate(1398.4 1077.3) scale(0.6245 1)">G-&gt;C</text>
<text class="lb" transform="translate(1398.4 1113.8) scale(0.6245 1)">T-&gt;C</text>
<text class="lb" transform="translate(1398.4 1150.3) scale(0.6245 1)">A-&gt;G</text>
<text class="lb" transform="translate(1398.4 1186.9) scale(0.6245 1)">G-&gt;A</text>
<text class="lb" transform="translate(1398.4 1223.4) scale(0.6245 1)">C-&gt;T</text>
<text class="lb" transform="translate(1398.4 1259.9) scale(0.6245 1)">A-&gt;G</text>
<text class="lb" transform="translate(1398.4 1296.4) scale(0.6245 1)">C-&gt;T</text>
<text class="lb" transform="translate(1398.4 1333) scale(0.6245 1)">G-&gt;C</text>
<text class="lb" transform="translate(1398.4 1369.5) scale(0.6245 1)">C-&gt;T</text>
<text class="lb" transform="translate(1398.4 1406) scale(0.6245 1)">T-&gt;C</text>
<text class="lb" transform="translate(1398.4 1442.6) scale(0.6245 1)">G-&gt;A</text>
<text class="lb" transform="translate(1398.4 1479.1) scale(0.6245 1)">G-&gt;A</text>
<text class="lb" transform="translate(1398.4 1515.6) scale(0.6245 1)">G-&gt;T</text>
</g>
<g class="chrom" id="A04">
<text class="ti" text-anchor="middle" transform="translate(1808.8 55.8) scale(0.675 1)">A04</text>
<g class="in"><path d="M1797.1 239.8H1820.5"/><path d="M1797.1 258.4H1820.5"/><path d="M1797.1 281H1820.5"/><path d="M1797.1 281H1820.5"/><path d="M1797.1 309.8H1820.5"/><path d="M1797.1 432H1820.5"/><path d="M1797.1 450.7H1820.5"/><path d="M1797.1 528H1820.5"/><path d="M1797.1 620.2H1820.5"/><path d="M1797.1 620.2H1820.5"/><path d="M1797.1 622.2H1820.5"/><path d="M1797.1 624H1820.5"/><path d="M1797.1 624H1820.5"/><path d="M1797.1 745.6H1820.5"/><path d="M1797.1 239.8H1820.5"/><path d="M1797.1 281H1820.5"/><path d="M1797.1 281H1820.5"/><path d="M1797.1 281H1820.5"/><path d="M1797.1 373H1820.5"/><path d="M1797.1 443H1820.5"/><path d="M1797.1 450.7H1820.5"/><path d="M1797.1 594H1820.5"/><path d="M1797.1 620.2H1820.5"/><path d="M1797.1 620.2H1820.5"/><path d="M1797.1 624H1820.5"/><path d="M1797.1 624H1820.5"/><path d="M1797.1 745.6H1820.5"/><path d="M1797.1 830H1820.5"/></g>
<g class="cn"><path d="M1749.5 259.8H1764.2L1782.1 239.8H1797.1"/><path d="M1749.5 296.5H1764.2L1782.1 258.4H1797.1"/><path d="M1749.5 333.5H1764.2L1782.1 281H1797.1"/><path d="M1749.5 369.8H1764.2L1782.1 281H1797.1"/><path d="M1749.5 406.2H1764.2L1782.1 309.8H1797.1"/><path d="M1749.5 443H1764.2L1782.1 432H1797.1"/><path d="M1749.5 480H1764.2L1782.1 450.7H1797.1"/><path d="M1749.5 516.3H1764.2L1782.1 528H1797.1"/><path d="M1749.5 620H1764.2L1782.1 620.2H1797.1"/><path d="M1749.5 656.7H1764.2L1782.1 620.2H1797.1"/><path d="M1749.5 693H1764.2L1782.1 622.2H1797.1"/><path d="M1749.5 729.6H1764.2L1782.1 624H1797.1"/><path d="M1749.5 766.2H1764.2L1782.1 624H1797.1"/><path d="M1749.5 802.9H1764.2L1782.1 745.6H1797.1"/><path d="M1867.1 259.8H1852.4L1834.5 239.8H1820.5"/><path d="M1867.1 296.5H1852.4L1834.5 281H1820.5"/><path d="M1867.1 333.5H1852.4L1834.5 281H1820.5"/><path d="M1867.1 369.8H1852.4L1834.5 281H1820.5"/><path d="M1867.1 406.2H1852.4L1834.5 373H1820.5"/><path d="M1867.1 443H1852.4L1834.5 443H1820.5"/><path d="M1867.1 480H1852.4L1834.5 450.7H1820.5"/><path d="M1867.1 594H1852.4L1834.5 594H1820.5"/><path d="M1867.1 630.6H1852.4L1834.5 620.2H1820.5"/><path d="M1867.1 667H1852.4L1834.5 620.2H1820.5"/><path d="M1867.1 703.8H1852.4L1834.5 624H1820.5"/><path d="M1867.1 740.3H1852.4L1834.5 624H1820.5"/><path d="M1867.1 776.5H1852.4L1834.5 745.6H1820.5"/><path d="M1867.1 813.5H1852.4L1834.5 830H1820.5"/></g>
<path class="ch" d="M1797.1 156.5A11.7 56 0 0 1 1820.5 156.5V773.8A11.7 56 0 0 1 1797.1 773.8Z"/>
<text class="lb" text-anchor="end" transform="translate(1746.8 276.2) scale(0.6245 1)">GGACT...-&gt;G</text>
<text class="lb" text-anchor="end" transform="translate(1746.8 312.9) scale(0.6245 1)">C-&gt;T</text>
<text class="lb" text-anchor="end" transform="translate(1746.8 349.9) scale(0.6245 1)">A-&gt;C</text>
<text class="lb" text-anchor="end" transform="translate(1746.8 386.2) scale(0.6245 1)">TAAGT...-&gt;T</text>
<text class="lb" text-anchor="end" transform="translate(1746.8 422.6) scale(0.6245 1)">T-&gt;G</text>
<text class="lb" text-anchor="end" transform="translate(1746.8 459.4) scale(0.6245 1)">G-&gt;A</text>
<text class="lb" text-anchor="end" transform="translate(1746.8 496.4) scale(0.6245 1)">C-&gt;T</text>
<text class="lb" text-anchor="end" transform="translate(1746.8 532.7) scale(0.6245 1)">A-&gt;T</text>
<text class="lb" text-anchor="end" transform="translate(1746.8 636.4) scale(0.6245 1)">G-&gt;A</text>
<text class="lb" text-anchor="end" transform="translate(1746.8 673.1) scale(0.6245 1)">G-&gt;A</text>
<text class="lb" text-anchor="end" transform="translate(1746.8 709.4) scale(0.6245 1)">C-&gt;A</text>
<text class="lb" text-anchor="end" transform="translate(1746.8 746) scale(0.6245 1)">C-&gt;T</text>
<text class="lb" text-anchor="end" transform="translate(1746.8 782.6) scale(0.6245 1)">T-&gt;C</text>
<text class="lb" text-anchor="end" transform="translate(1746.8 819.3) scale(0.6245 1)">GATCA...-&gt;G</text>
<text class="lb" transform="translate(1869.8 276.2) scale(0.6245 1)">GATTG...-&gt;G</text>
<text class="lb" transform="translate(1869.8 312.9) scale(0.6245 1)">GTTCC...-&gt;G</text>
<text class="lb" transform="translate(1869.8 349.9) scale(0.6245 1)">A-&gt;T</text>
<text class="lb" transform="translate(1869.8 386.2) scale(0.6245 1)">G-&gt;T</text>
<text class="lb" transform="translate(1869.8 422.6) scale(0.6245 1)">C-&gt;A</text>
<text class="lb" transform="translate(1869.8 459.4) scale(0.6245 1)">C-&gt;A</text>
<text class="lb" transform="translate(1869.8 496.4) scale(0.6245 1)">A-&gt;G</text>
<text class="lb" transform="translate(1869.8 610.4) scale(0.6245 1)">G-&gt;A</text>
<text class="lb" transform="translate(1869.8 647) scale(0.6245 1)">A-&gt;G</text>
<text class="lb" transform="translate(1869.8 683.4) scale(0.6245 1)">C-&gt;T</text>
<text class="lb" transform="translate(1869.8 720.2) scale(0.6245 1)">T-&gt;C</text>
<text class="lb" transform="translate(1869.8 756.7) scale(0.6245 1)">A-&gt;G</text>
<text class="lb" transform="translate(1869.8 792.9) scale(0.6245 1)">CA-&gt;C</text>
<text class="lb" transform="translate(1869.8 829.9) scale(0.6245 1)">C-&gt;G</text>
</g>
<g class="chrom" id="A05">
<text class="ti" text-anchor="middle" transform="translate(2280.2 55.8) scale(0.675 1)">A05</text>
<g class="in"><path d="M2268.5 192H2291.9"/><path d="M2268.5 357.3H2291.9"/><path d="M2268.5 416.7H2291.9"/><path d="M2268.5 457.7H2291.9"/><path d="M2268.5 457.7H2291.9"/><path d="M2268.5 457.7H2291.9"/><path d="M2268.5 468.3H2291.9"/><path d="M2268.5 479.9H2291.9"/><path d="M2268.5 479.9H2291.9"/><path d="M2268.5 494.3H2291.9"/><path d="M2268.5 494.3H2291.9"/><path d="M2268.5 494.3H2291.9"/><path d="M2268.5 546.6H2291.9"/><path d="M2268.5 576.3H2291.9"/><path d="M2268.5 602H2291.9"/><path d="M2268.5 617.4H2291.9"/><path d="M2268.5 634.4H2291.9"/><path d="M2268.5 653.3H2291.9"/><path d="M2268.5 674.3H2291.9"/><path d="M2268.5 674.3H2291.9"/><path d="M2268.5 804.5H2291.9"/><path d="M2268.5 808.4H2291.9"/><path d="M2268.5 808.4H2291.9"/><path d="M2268.5 811.8H2291.9"/><path d="M2268.5 819.5H2291.9"/><path d="M2268.5 833.9H2291.9"/><path d="M2268.5 845.2H2291.9"/><path d="M2268.5 870.2H2291.9"/><path d="M2268.5 884.6H2291.9"/><path d="M2268.5 884.6H2291.9"/><path d="M2268.5 887.7H2291.9"/><path d="M2268.5 887.7H2291.9"/><path d="M2268.5 890.8H2291.9"/><path d="M2268.5 896.4H2291.9"/><path d="M2268.5 896.4H2291.9"/><path d="M2268.5 955.9H2291.9"/><path d="M2268.5 192H2291.9"/><path d="M2268.5 379.6H2291.9"/><path d="M2268.5 420.3H2291.9"/><path d="M2268.5 457.7H2291.9"/><path d="M2268.5 457.7H2291.9"/><path d="M2268.5 457.7H2291.9"/><path d="M2268.5 468.3H2291.9"/><path d="M2268.5 479.9H2291.9"/><path d="M2268.5 479.9H2291.9"/><path d="M2268.5 494.2H2291.9"/><path d="M2268.5 494.2H2291.9"/><path d="M2268.5 557.3H2291.9"/><path d="M2268.5 601.7H2291.9"/><path d="M2268.5 616.8H2291.9"/><path d="M2268.5 634.4H2291.9"/><path d="M2268.5 634.4H2291.9"/><path d="M2268.5 674.5H2291.9"/><path d="M2268.5 674.5H2291.9"/><path d="M2268.5 674.5H2291.9"/><path d="M2268.5 674.5H2291.9"/><path d="M2268.5 804.5H2291.9"/><path d="M2268.5 808.4H2291.9"/><path d="M2268.5 808.4H2291.9"/><path d="M2268.5 811.8H2291.9"/><path d="M2268.5 820H2291.9"/><path d="M2268.5 837.6H2291.9"/><path d="M2268.5 848.5H2291.9"/><path d="M2268.5 870.2H2291.9"/><path d="M2268.5 884.6H2291.9"/><path d="M2268.5 884.6H2291.9"/><path d="M2268.5 887.7H2291.9"/><path d="M2268.5 887.7H2291.9"/><path d="M2268.5 890.8H2291.9"/><path d="M2268.5 896.4H2291.9"/><path d="M2268.5 896.4H2291.9"/><path d="M2268.5 989.8H2291.9"/></g>
<g class="cn"><path d="M2220.9 212.5H2235.6L2253.5 192H2268.5"/><path d="M2220.9 249H2235.6L2253.5 357.3H2268.5"/><path d="M2220.9 285.6H2235.6L2253.5 416.7H2268.5"/><path d="M2220.9 322.1H2235.6L2253.5 457.7H2268.5"/><path d="M2220.9 358.6H2235.6L2253.5 457.7H2268.5"/><path d="M2220.9 395.1H2235.6L2253.5 457.7H2268.5"/><path d="M2220.9 431.7H2235.6L2253.5 468.3H2268.5"/><path d="M2220.9 468.2H2235.6L2253.5 479.9H2268.5"/><path d="M2220.9 504.7H2235.6L2253.5 479.9H2268.5"/><path d="M2220.9 541.3H2235.6L2253.5 494.3H2268.5"/><path d="M2220.9 577.8H2235.6L2253.5 494.3H2268.5"/><path d="M2220.9 614.3H2235.6L2253.5 494.3H2268.5"/><path d="M2220.9 650.9H2235.6L2253.5 546.6H2268.5"/><path d="M2220.9 687.4H2235.6L2253.5 576.3H2268.5"/><path d="M2220.9 723.9H2235.6L2253.5 602H2268.5"/><path d="M2220.9 760.5H2235.6L2253.5 617.4H2268.5"/><path d="M2220.9 797H2235.6L2253.5 634.4H2268.5"/><path d="M2220.9 833.5H2235.6L2253.5 653.3H2268.5"/><path d="M2220.9 870H2235.6L2253.5 674.3H2268.5"/><path d="M2220.9 906.6H2235.6L2253.5 674.3H2268.5"/><path d="M2220.9 943.1H2235.6L2253.5 804.5H2268.5"/><path d="M2220.9 979.6H2235.6L2253.5 808.4H2268.5"/><path d="M2220.9 1016.2H2235.6L2253.5 808.4H2268.5"/><path d="M2220.9 1052.7H2235.6L2253.5 811.8H2268.5"/><path d="M2220.9 1089.2H2235.6L2253.5 819.5H2268.5"/><path d="M2220.9 1125.8H2235.6L2253.5 833.9H2268.5"/><path d="M2220.9 1162.3H2235.6L2253.5 845.2H2268.5"/><path d="M2220.9 1198.8H2235.6L2253.5 870.2H2268.5"/><path d="M2220.9 1235.3H2235.6L2253.5 884.6H2268.5"/><path d="M2220.9 1271.9H2235.6L2253.5 884.6H2268.5"/><path d="M2220.9 1308.4H2235.6L2253.5 887.7H2268.5"/><path d="M2220.9 1344.9H2235.6L2253.5 887.7H2268.5"/><path d="M2220.9 1381.5H2235.6L2253.5 890.8H2268.5"/><path d="M2220.9 1418H2235.6L2253.5 896.4H2268.5"/><path d="M2220.9 1454.5H2235.6L2253.5 896.4H2268.5"/><path d="M2220.9 1491H2235.6L2253.5 955.9H2268.5"/><path d="M2338.5 212.5H2323.8L2305.9 192H2291.9"/><path d="M2338.5 249H2323.8L2305.9 379.6H2291.9"/><path d="M2338.5 285.6H2323.8L2305.9 420.3H2291.9"/><path d="M2338.5 322.1H2323.8L2305.9 457.7H2291.9"/><path d="M2338.5 358.6H2323.8L2305.9 457.7H2291.9"/><path d="M2338.5 395.1H2323.8L2305.9 457.7H2291.9"/><path d="M2338.5 431.7H2323.8L2305.9 468.3H2291.9"/><path d="M2338.5 468.2H2323.8L2305.9 479.9H2291.9"/><path d="M2338.5 504.7H2323.8L2305.9 479.9H2291.9"/><path d="M2338.5 541.3H2323.8L2305.9 494.2H2291.9"/><path d="M2338.5 577.8H2323.8L2305.9 494.2H2291.9"/><path d="M2338.5 614.3H2323.8L2305.9 557.3H2291.9"/><path d="M2338.5 650.9H2323.8L2305.9 601.7H2291.9"/><path d="M2338.5 687.4H2323.8L2305.9 616.8H2291.9"/><path d="M2338.5 723.9H2323.8L2305.9 634.4H2291.9"/><path d="M2338.5 760.5H2323.8L2305.9 634.4H2291.9"/><path d="M2338.5 797H2323.8L2305.9 674.5H2291.9"/><path d="M2338.5 833.5H2323.8L2305.9 674.5H2291.9"/><path d="M2338.5 870H2323.8L2305.9 674.5H2291.9"/><path d="M2338.5 906.6H2323.8L2305.9 674.5H2291.9"/><path d="M2338.5 943.1H2323.8L2305.9 804.5H2291.9"/><path d="M2338.5 979.6H2323.8L2305.9 808.4H2291.9"/><path d="M2338.5 1016.2H2323.8L2305.9 808.4H2291.9"/><path d="M2338.5 1052.7H2323.8L2305.9 811.8H2291.9"/><path d="M2338.5 1089.2H2323.8L2305.9 820H2291.9"/><path d="M2338.5 1125.8H2323.8L2305.9 837.6H2291.9"/><path d="M2338.5 1162.3H2323.8L2305.9 848.5H2291.9"/><path d="M2338.5 1198.8H2323.8L2305.9 870.2H2291.9"/><path d="M2338.5 1235.3H2323.8L2305.9 884.6H2291.9"/><path d="M2338.5 1271.9H2323.8L2305.9 884.6H2291.9"/><path d="M2338.5 1308.4H2323.8L2305.9 887.7H2291.9"/><path d="M2338.5 1344.9H2323.8L2305.9 887.7H2291.9"/><path d="M2338.5 1381.5H2323.8L2305.9 890.8H2291.9"/><path d="M2338.5 1418H2323.8L2305.9 896.4H2291.9"/><path d="M2338.5 1454.5H2323.8L2305.9 896.4H2291.9"/><path d="M2338.5 1491H2323.8L2305.9 989.8H2291.9"/></g>
<path class="ch" d="M2268.5 156.5A11.7 56 0 0 1 2291.9 156.5V973.2A11.7 56 0 0 1 2268.5 973.2Z"/>
<text class="lb" text-anchor="end" transform="translate(2218.2 228.9) scale(0.6245 1)">G-&gt;A</text>
<text class="lb" text-anchor="end" transform="translate(2218.2 265.4) scale(0.6245 1)">A-&gt;G</text>
<text class="lb" text-anchor="end" transform="translate(2218.2 302) scale(0.6245 1)">G-&gt;A</text>
<text class="lb" text-anchor="end" transform="translate(2218.2 338.5) scale(0.6245 1)">G-&gt;T</text>
<text class="lb" text-anchor="end" transform="translate(2218.2 375) scale(0.6245 1)">T-&gt;A</text>
<text class="lb" text-anchor="end" transform="translate(2218.2 411.5) scale(0.6245 1)">AGG-&gt;A</text>
<text class="lb" text-anchor="end" transform="translate(2218.2 448.1) scale(0.6245 1)">C-&gt;T</text>
<text class="lb" text-anchor="end" transform="translate(2218.2 484.6) scale(0.6245 1)">TCC-&gt;T</text>
<text class="lb" text-anchor="end" transform="translate(2218.2 521.1) scale(0.6245 1)">A-&gt;T</text>
<text class="lb" text-anchor="end" transform="translate(2218.2 557.7) scale(0.6245 1)">G-&gt;C</text>
<text class="lb" text-anchor="end" transform="translate(2218.2 594.2) scale(0.6245 1)">T-&gt;A</text>
<text class="lb" text-anchor="end" transform="translate(2218.2 630.7) scale(0.6245 1)">C-&gt;A</text>
<text class="lb" text-anchor="end" transform="translate(2218.2 667.3) scale(0.6245 1)">T-&gt;G</text>
<text class="lb" text-anchor="end" transform="translate(2218.2 703.8) scale(0.6245 1)">TTCCAA-&gt;T</text>
<text class="lb" text-anchor="end" transform="translate(2218.2 740.3) scale(0.6245 1)">G-&gt;A</text>
<text class="lb" text-anchor="end" transform="translate(2218.2 776.9) scale(0.6245 1)">CTGCC...-&gt;C</text>
<text class="lb" text-anchor="end" transform="translate(2218.2 813.4) scale(0.6245 1)">T-&gt;A</text>
<text class="lb" text-anchor="end" transform="translate(2218.2 849.9) scale(0.6245 1)">G-&gt;T</text>
<text class="lb" text-anchor="end" transform="translate(2218.2 886.4) scale(0.6245 1)">A-&gt;G</text>
<text class="lb" text-anchor="end" transform="translate(2218.2 923) scale(0.6245 1)">A-&gt;C</text>
<text class="lb" text-anchor="end" transform="translate(2218.2 959.5) scale(0.6245 1)">T-&gt;C</text>
<text class="lb" text-anchor="end" transform="translate(2218.2 996) scale(0.6245 1)">C-&gt;T</text>
<text class="lb" text-anchor="end" transform="translate(2218.2 1032.6) scale(0.6245 1)">T-&gt;A</text>
<text class="lb" text-anchor="end" transform="translate(2218.2 1069.1) scale(0.6245 1)">C-&gt;T</text>
<text class="lb" text-anchor="end" transform="translate(2218.2 1105.6) scale(0.6245 1)">A-&gt;G</text>
<text class="lb" text-anchor="end" transform="translate(2218.2 1142.2) scale(0.6245 1)">T-&gt;C</text>
<text class="lb" text-anchor="end" transform="translate(2218.2 1178.7) scale(0.6245 1)">C-&gt;T</text>
<text class="lb" text-anchor="end" transform="translate(2218.2 1215.2) scale(0.6245 1)">C-&gt;T</text>
<text class="lb" text-anchor="end" transform="translate(2218.2 1251.7) scale(0.6245 1)">T-&gt;C</text>
<text class="lb" text-anchor="end" transform="translate(2218.2 1288.3) scale(0.6245 1)">C-&gt;G</text>
<text class="lb" text-anchor="end" transform="translate(2218.2 1324.8) scale(0.6245 1)">G-&gt;C</text>
<text class="lb" text-anchor="end" transform="translate(2218.2 1361.3) scale(0.6245 1)">A-&gt;AT</text>
<text class="lb" text-anchor="end" transform="translate(2218.2 1397.9) scale(0.6245 1)">A-&gt;T</text>
<text class="lb" text-anchor="end" transform="translate(2218.2 1434.4) scale(0.6245 1)">T-&gt;C</text>
<text class="lb" text-anchor="end" transform="translate(2218.2 1470.9) scale(0.6245 1)">T-&gt;A</text>
<text class="lb" text-anchor="end" transform="translate(2218.2 1507.4) scale(0.6245 1)">C-&gt;T</text>
<text class="lb" transform="translate(2341.2 228.9) scale(0.6245 1)">C-&gt;T</text>
<text class="lb" transform="translate(2341.2 265.4) scale(0.6245 1)">A-&gt;T</text>
<text class="lb" transform="translate(2341.2 302) scale(0.6245 1)">C-&gt;T</text>
<text class="lb" transform="translate(2341.2 338.5) scale(0.6245 1)">C-&gt;T</text>
<text class="lb" transform="translate(2341.2 375) scale(0.6245 1)">C-&gt;T</text>
<text class="lb" transform="translate(2341.2 411.5) scale(0.6245 1)">T-&gt;C</text>
<text class="lb" transform="translate(2341.2 448.1) scale(0.6245 1)">G-&gt;A</text>
<text class="lb" transform="translate(2341.2 484.6) scale(0.6245 1)">G-&gt;A</text>
<text class="lb" transform="translate(2341.2 521.1) scale(0.6245 1)">A-&gt;G</text>
<text class="lb" transform="translate(2341.2 557.7) scale(0.6245 1)">A-&gt;G</text>
<text class="lb" transform="translate(2341.2 594.2) scale(0.6245 1)">C-&gt;A</text>
<text class="lb" transform="translate(2341.2 630.7) scale(0.6245 1)">C-&gt;A</text>
<text class="lb" transform="translate(2341.2 667.3) scale(0.6245 1)">T-&gt;C</text>
<text class="lb" transform="translate(2341.2 703.8) scale(0.6245 1)">G-&gt;A</text>
<text class="lb" transform="translate(2341.2 740.3) scale(0.6245 1)">C-&gt;T</text>
<text class="lb" transform="translate(2341.2 776.9) scale(0.6245 1)">G-&gt;T</text>
<text class="lb" transform="translate(2341.2 813.4) scale(0.6245 1)">G-&gt;T</text>
<text class="lb" transform="translate(2341.2 849.9) scale(0.6245 1)">A-&gt;T</text>
<text class="lb" transform="translate(2341.2 886.4) scale(0.6245 1)">A-&gt;G</text>
<text class="lb" transform="translate(2341.2 923) scale(0.6245 1)">A-&gt;C</text>
<text class="lb" transform="translate(2341.2 959.5) scale(0.6245 1)">G-&gt;A</text>
<text class="lb" transform="translate(2341.2 996) scale(0.6245 1)">T-&gt;G</text>
<text class="lb" transform="translate(2341.2 1032.6) scale(0.6245 1)">T-&gt;C</text>
<text class="lb" transform="translate(2341.2 1069.1) scale(0.6245 1)">C-&gt;A</text>
<text class="lb" transform="translate(2341.2 1105.6) scale(0.6245 1)">A-&gt;C</text>
<text class="lb" transform="translate(2341.2 1142.2) scale(0.6245 1)">G-&gt;T</text>
<text class="lb" transform="translate(2341.2 1178.7) scale(0.6245 1)">T-&gt;G</text>
<text class="lb" transform="translate(2341.2 1215.2) scale(0.6245 1)">A-&gt;T</text>
<text class="lb" transform="translate(2341.2 1251.7) scale(0.6245 1)">G-&gt;A</text>
<text class="lb" transform="translate(2341.2 1288.3) scale(0.6245 1)">C-&gt;T</text>
<text class="lb" transform="translate(2341.2 1324.8) scale(0.6245 1)">A-&gt;G</text>
<text class="lb" transform="translate(2341.2 1361.3) scale(0.6245 1)">TG-&gt;T</text>
<text class="lb" transform="translate(2341.2 1397.9) scale(0.6245 1)">T-&gt;G</text>
<text class="lb" transform="translate(2341.2 1434.4) scale(0.6245 1)">A-&gt;C</text>
<text class="lb" transform="translate(2341.2 1470.9) scale(0.6245 1)">C-&gt;T</text>
<text class="lb" transform="translate(2341.2 1507.4) scale(0.6245 1)">C-&gt;G</text>
</g>
<g class="chrom" id="A06">
<text class="ti" text-anchor="middle" transform="translate(394.5 1789.8) scale(0.675 1)">A06</text>
<g class="in"><path d="M382.8 1904.6H406.2"/><path d="M382.8 2000.9H406.2"/><path d="M382.8 2000.9H406.2"/><path d="M382.8 2000.9H406.2"/><path d="M382.8 2027H406.2"/><path d="M382.8 2027H406.2"/><path d="M382.8 2036.6H406.2"/><path d="M382.8 2110.5H406.2"/><path d="M382.8 2269.5H406.2"/><path d="M382.8 2295H406.2"/><path d="M382.8 2295H406.2"/><path d="M382.8 2295H406.2"/><path d="M382.8 2421.3H406.2"/><path d="M382.8 2476.5H406.2"/><path d="M382.8 2494.4H406.2"/><path d="M382.8 2572H406.2"/><path d="M382.8 2608.5H406.2"/><path d="M382.8 2738.2H406.2"/><path d="M382.8 2753H406.2"/><path d="M382.8 2759.5H406.2"/><path d="M382.8 2760.5H406.2"/><path d="M382.8 1996.7H406.2"/><path d="M382.8 1999H406.2"/><path d="M382.8 2000.3H406.2"/><path d="M382.8 2006.3H406.2"/><path d="M382.8 2006.3H406.2"/><path d="M382.8 2006.3H406.2"/><path d="M382.8 2036.6H406.2"/><path d="M382.8 2162.5H406.2"/><path d="M382.8 2269.5H406.2"/><path d="M382.8 2294.9H406.2"/><path d="M382.8 2294.9H406.2"/><path d="M382.8 2314.3H406.2"/><path d="M382.8 2421.3H406.2"/><path d="M382.8 2494.4H406.2"/><path d="M382.8 2564.9H406.2"/><path d="M382.8 2608.5H406.2"/><path d="M382.8 2608.5H406.2"/><path d="M382.8 2753.3H406.2"/><path d="M382.8 2753.3H406.2"/><path d="M382.8 2760H406.2"/></g>
<g class="cn"><path d="M335.2 1924.7H349.9L367.8 1904.6H382.8"/><path d="M335.2 2000.3H349.9L367.8 2000.9H382.8"/><path d="M335.2 2036.6H349.9L367.8 2000.9H382.8"/><path d="M335.2 2073.4H349.9L367.8 2000.9H382.8"/><path d="M335.2 2110.5H349.9L367.8 2027H382.8"/><path d="M335.2 2146.3H349.9L367.8 2027H382.8"/><path d="M335.2 2182.6H349.9L367.8 2036.6H382.8"/><path d="M335.2 2219.4H349.9L367.8 2110.5H382.8"/><path d="M335.2 2255.3H349.9L367.8 2269.5H382.8"/><path d="M335.2 2292.2H349.9L367.8 2295H382.8"/><path d="M335.2 2329.3H349.9L367.8 2295H382.8"/><path d="M335.2 2366.3H349.9L367.8 2295H382.8"/><path d="M335.2 2402H349.9L367.8 2421.3H382.8"/><path d="M335.2 2476.5H349.9L367.8 2476.5H382.8"/><path d="M335.2 2512.6H349.9L367.8 2494.4H382.8"/><path d="M335.2 2572H349.9L367.8 2572H382.8"/><path d="M335.2 2608.5H349.9L367.8 2608.5H382.8"/><path d="M335.2 2738.2H349.9L367.8 2738.2H382.8"/><path d="M335.2 2774.7H349.9L367.8 2753H382.8"/><path d="M335.2 2811H349.9L367.8 2759.5H382.8"/><path d="M335.2 2847.8H349.9L367.8 2760.5H382.8"/><path d="M452.8 2016.8H438.1L420.2 1996.7H406.2"/><path d="M452.8 2053.6H438.1L420.2 1999H406.2"/><path d="M452.8 2089.9H438.1L420.2 2000.3H406.2"/><path d="M452.8 2126.2H438.1L420.2 2006.3H406.2"/><path d="M452.8 2162.5H438.1L420.2 2006.3H406.2"/><path d="M452.8 2198.8H438.1L420.2 2006.3H406.2"/><path d="M452.8 2235.6H438.1L420.2 2036.6H406.2"/><path d="M452.8 2272H438.1L420.2 2162.5H406.2"/><path d="M452.8 2308.7H438.1L420.2 2269.5H406.2"/><path d="M452.8 2345.7H438.1L420.2 2294.9H406.2"/><path d="M452.8 2382.5H438.1L420.2 2294.9H406.2"/><path d="M452.8 2418.9H438.1L420.2 2314.3H406.2"/><path d="M452.8 2455.7H438.1L420.2 2421.3H406.2"/><path d="M452.8 2491.5H438.1L420.2 2494.4H406.2"/><path d="M452.8 2564.9H438.1L420.2 2564.9H406.2"/><path d="M452.8 2601.2H438.1L420.2 2608.5H406.2"/><path d="M452.8 2638.7H438.1L420.2 2608.5H406.2"/><path d="M452.8 2753H438.1L420.2 2753.3H406.2"/><path d="M452.8 2790H438.1L420.2 2753.3H406.2"/><path d="M452.8 2826.3H438.1L420.2 2760H406.2"/></g>
<path class="ch" d="M382.8 1890.3A11.7 56 0 0 1 406.2 1890.3V2718.2A11.7 56 0 0 1 382.8 2718.2Z"/>
<text class="lb" text-anchor="end" transform="translate(332.5 1941.1) scale(0.6245 1)">C-&gt;T</text>
<text class="lb" text-anchor="end" transform="translate(332.5 2016.7) scale(0.6245 1)">AGT-&gt;A</text>
<text class="lb" text-anchor="end" transform="translate(332.5 2053) scale(0.6245 1)">CCT-&gt;C</text>
<text class="lb" text-anchor="end" transform="translate(332.5 2089.8) scale(0.6245 1)">A-&gt;G</text>
<text class="lb" text-anchor="end" transform="translate(332.5 2126.9) scale(0.6245 1)">A-&gt;T</text>
<text class="lb" text-anchor="end" transform="translate(332.5 2162.7) scale(0.6245 1)">A-&gt;T</text>
<text class="lb" text-anchor="end" transform="translate(332.5 2199) scale(0.6245 1)">C-&gt;T</text>
<text class="lb" text-anchor="end" transform="translate(332.5 2235.8) scale(0.6245 1)">C-&gt;T</text>
<text class="lb" text-anchor="end" transform="translate(332.5 2271.7) scale(0.6245 1)">T-&gt;G</text>
<text class="lb" text-anchor="end" transform="translate(332.5 2308.6) scale(0.6245 1)">G-&gt;A</text>
<text class="lb" text-anchor="end" transform="translate(332.5 2345.7) scale(0.6245 1)">G-&gt;A</text>
<text class="lb" text-anchor="end" transform="translate(332.5 2382.7) scale(0.6245 1)">A-&gt;G</text>
<text class="lb" text-anchor="end" transform="translate(332.5 2418.4) scale(0.6245 1)">A-&gt;G</text>
<text class="lb" text-anchor="end" transform="translate(332.5 2492.9) scale(0.6245 1)">G-&gt;A</text>
<text class="lb" text-anchor="end" transform="translate(332.5 2529) scale(0.6245 1)">T-&gt;C</text>
<text class="lb" text-anchor="end" transform="translate(332.5 2588.4) scale(0.6245 1)">G-&gt;A</text>
<text class="lb" text-anchor="end" transform="translate(332.5 2624.9) scale(0.6245 1)">T-&gt;C</text>
<text class="lb" text-anchor="end" transform="translate(332.5 2754.6) scale(0.6245 1)">T-&gt;C</text>
<text class="lb" text-anchor="end" transform="translate(332.5 2791.1) scale(0.6245 1)">C-&gt;T</text>
<text class="lb" text-anchor="end" transform="translate(332.5 2827.4) scale(0.6245 1)">C-&gt;G</text>
<text class="lb" text-anchor="end" transform="translate(332.5 2864.2) scale(0.6245 1)">A-&gt;G</text>
<text class="lb" transform="translate(455.5 2033.2) scale(0.6245 1)">C-&gt;T</text>
<text class="lb" transform="translate(455.5 2070) scale(0.6245 1)">A-&gt;AAC</text>
<text class="lb" transform="translate(455.5 2106.3) scale(0.6245 1)">T-&gt;TCTCA</text>
<text class="lb" transform="translate(455.5 2142.6) scale(0.6245 1)">T-&gt;C</text>
<text class="lb" transform="translate(455.5 2178.9) scale(0.6245 1)">TGAAAA-&gt;T</text>
<text class="lb" transform="translate(455.5 2215.2) scale(0.6245 1)">C-&gt;CTGCGT</text>
<text class="lb" transform="translate(455.5 2252) scale(0.6245 1)">T-&gt;C</text>
<text class="lb" transform="translate(455.5 2288.4) scale(0.6245 1)">G-&gt;A</text>
<text class="lb" transform="translate(455.5 2325.1) scale(0.6245 1)">G-&gt;C</text>
<text class="lb" transform="translate(455.5 2362.1) scale(0.6245 1)">C-&gt;G</text>
<text class="lb" transform="translate(455.5 2398.9) scale(0.6245 1)">A-&gt;ATC</text>
<text class="lb" transform="translate(455.5 2435.3) scale(0.6245 1)">A-&gt;G</text>
<text class="lb" transform="translate(455.5 2472.1) scale(0.6245 1)">G-&gt;A</text>
<text class="lb" transform="translate(455.5 2507.9) scale(0.6245 1)">A-&gt;G</text>
<text class="lb" transform="translate(455.5 2581.3) scale(0.6245 1)">T-&gt;C</text>
<text class="lb" transform="translate(455.5 2617.6) scale(0.6245 1)">C-&gt;T</text>
<text class="lb" transform="translate(455.5 2655.1) scale(0.6245 1)">G-&gt;T</text>
<text class="lb" transform="translate(455.5 2769.4) scale(0.6245 1)">G-&gt;A</text>
<text class="lb" transform="translate(455.5 2806.4) scale(0.6245 1)">T-&gt;G</text>
<text class="lb" transform="translate(455.5 2842.7) scale(0.6245 1)">C-&gt;G</text>
</g>
<g class="chrom" id="A07">
<text class="ti" text-anchor="middle" transform="translate(865.9 1789.8) scale(0.675 1)">A07</text>
<g class="in"><path d="M854.2 1852.5H877.6"/><path d="M854.2 1966.8H877.6"/><path d="M854.2 1970.4H877.6"/><path d="M854.2 2015.2H877.6"/><path d="M854.2 2097H877.6"/><path d="M854.2 2254.9H877.6"/><path d="M854.2 2269.4H877.6"/><path d="M854.2 2306.5H877.6"/><path d="M854.2 2342.8H877.6"/><path d="M854.2 2431.6H877.6"/><path d="M854.2 2509.2H877.6"/><path d="M854.2 2509.2H877.6"/><path d="M854.2 2510.8H877.6"/><path d="M854.2 2510.8H877.6"/><path d="M854.2 2543H877.6"/><path d="M854.2 2601.4H877.6"/><path d="M854.2 2601.4H877.6"/><path d="M854.2 2624.1H877.6"/><path d="M854.2 2624.1H877.6"/><path d="M854.2 2626.4H877.6"/><path d="M854.2 2626.4H877.6"/><path d="M854.2 2628.7H877.6"/><path d="M854.2 2634.3H877.6"/><path d="M854.2 2634.3H877.6"/><path d="M854.2 2645.9H877.6"/><path d="M854.2 2645.9H877.6"/><path d="M854.2 2708.7H877.6"/><path d="M854.2 2775.5H877.6"/><path d="M854.2 2779H877.6"/><path d="M854.2 1948.6H877.6"/><path d="M854.2 1970.5H877.6"/><path d="M854.2 1970.5H877.6"/><path d="M854.2 2015.2H877.6"/><path d="M854.2 2218.6H877.6"/><path d="M854.2 2269.4H877.6"/><path d="M854.2 2269.4H877.6"/><path d="M854.2 2306.5H877.6"/><path d="M854.2 2342.8H877.6"/><path d="M854.2 2431.6H877.6"/><path d="M854.2 2509.2H877.6"/><path d="M854.2 2509.2H877.6"/><path d="M854.2 2510.8H877.6"/><path d="M854.2 2510.8H877.6"/><path d="M854.2 2590.7H877.6"/><path d="M854.2 2601.2H877.6"/><path d="M854.2 2624.1H877.6"/><path d="M854.2 2624.1H877.6"/><path d="M854.2 2626.4H877.6"/><path d="M854.2 2626.4H877.6"/><path d="M854.2 2628.7H877.6"/><path d="M854.2 2628.7H877.6"/><path d="M854.2 2634.4H877.6"/><path d="M854.2 2634.4H877.6"/><path d="M854.2 2634.4H877.6"/><path d="M854.2 2708.7H877.6"/><path d="M854.2 2775.5H877.6"/><path d="M854.2 2779H877.6"/></g>
<g class="cn"><path d="M806.6 1872.8H821.3L839.2 1852.5H854.2"/><path d="M806.6 1966.8H821.3L839.2 1966.8H854.2"/><path d="M806.6 2003.6H821.3L839.2 1970.4H854.2"/><path d="M806.6 2039.9H821.3L839.2 2015.2H854.2"/><path d="M806.6 2076.2H821.3L839.2 2097H854.2"/><path d="M806.6 2254.9H821.3L839.2 2254.9H854.2"/><path d="M806.6 2290.7H821.3L839.2 2269.4H854.2"/><path d="M806.6 2327.5H821.3L839.2 2306.5H854.2"/><path d="M806.6 2363.8H821.3L839.2 2342.8H854.2"/><path d="M806.6 2431.6H821.3L839.2 2431.6H854.2"/><path d="M806.6 2509H821.3L839.2 2509.2H854.2"/><path d="M806.6 2545.5H821.3L839.2 2509.2H854.2"/><path d="M806.6 2582.1H821.3L839.2 2510.8H854.2"/><path d="M806.6 2618.6H821.3L839.2 2510.8H854.2"/><path d="M806.6 2655.1H821.3L839.2 2543H854.2"/><path d="M806.6 2691.7H821.3L839.2 2601.4H854.2"/><path d="M806.6 2728.2H821.3L839.2 2601.4H854.2"/><path d="M806.6 2764.7H821.3L839.2 2624.1H854.2"/><path d="M806.6 2801.2H821.3L839.2 2624.1H854.2"/><path d="M806.6 2837.8H821.3L839.2 2626.4H854.2"/><path d="M806.6 2874.3H821.3L839.2 2626.4H854.2"/><path d="M806.6 2910.8H821.3L839.2 2628.7H854.2"/><path d="M806.6 2947.4H821.3L839.2 2634.3H854.2"/><path d="M806.6 2983.9H821.3L839.2 2634.3H854.2"/><path d="M806.6 3020.4H821.3L839.2 2645.9H854.2"/><path d="M806.6 3056.9H821.3L839.2 2645.9H854.2"/><path d="M806.6 3093.5H821.3L839.2 2708.7H854.2"/><path d="M806.6 3130H821.3L839.2 2775.5H854.2"/><path d="M806.6 3166.5H821.3L839.2 2779H854.2"/><path d="M924.2 1969.2H909.5L891.6 1948.6H877.6"/><path d="M924.2 2005H909.5L891.6 1970.5H877.6"/><path d="M924.2 2041.8H909.5L891.6 1970.5H877.6"/><path d="M924.2 2078H909.5L891.6 2015.2H877.6"/><path d="M924.2 2218.6H909.5L891.6 2218.6H877.6"/><path d="M924.2 2254.4H909.5L891.6 2269.4H877.6"/><path d="M924.2 2290.7H909.5L891.6 2269.4H877.6"/><path d="M924.2 2327.5H909.5L891.6 2306.5H877.6"/><path d="M924.2 2363.8H909.5L891.6 2342.8H877.6"/><path d="M924.2 2431.6H909.5L891.6 2431.6H877.6"/><path d="M924.2 2509H909.5L891.6 2509.2H877.6"/><path d="M924.2 2545.5H909.5L891.6 2509.2H877.6"/><path d="M924.2 2582.1H909.5L891.6 2510.8H877.6"/><path d="M924.2 2618.6H909.5L891.6 2510.8H877.6"/><path d="M924.2 2655.1H909.5L891.6 2590.7H877.6"/><path d="M924.2 2691.7H909.5L891.6 2601.2H877.6"/><path d="M924.2 2728.2H909.5L891.6 2624.1H877.6"/><path d="M924.2 2764.7H909.5L891.6 2624.1H877.6"/><path d="M924.2 2801.2H909.5L891.6 2626.4H877.6"/><path d="M924.2 2837.8H909.5L891.6 2626.4H877.6"/><path d="M924.2 2874.3H909.5L891.6 2628.7H877.6"/><path d="M924.2 2910.8H909.5L891.6 2628.7H877.6"/><path d="M924.2 2947.4H909.5L891.6 2634.4H877.6"/><path d="M924.2 2983.9H909.5L891.6 2634.4H877.6"/><path d="M924.2 3020.4H909.5L891.6 2634.4H877.6"/><path d="M924.2 3056.9H909.5L891.6 2708.7H877.6"/><path d="M924.2 3093.5H909.5L891.6 2775.5H877.6"/><path d="M924.2 3130H909.5L891.6 2779H877.6"/></g>
<path class="ch" d="M854.2 1890.3A11.7 56 0 0 1 877.6 1890.3V2758.8A11.7 56 0 0 1 854.2 2758.8Z"/>
<text class="lb" text-anchor="end" transform="translate(803.9 1889.2) scale(0.6245 1)">AGGTG...-&gt;A</text>
<text class="lb" text-anchor="end" transform="translate(803.9 1983.2) scale(0.6245 1)">G-&gt;A</text>
<text class="lb" text-anchor="end" transform="translate(803.9 2020) scale(0.6245 1)">T-&gt;A</text>
<text class="lb" text-anchor="end" transform="translate(803.9 2056.3) scale(0.6245 1)">A-&gt;G</text>
<text class="lb" text-anchor="end" transform="translate(803.9 2092.6) scale(0.6245 1)">T-&gt;C</text>
<text class="lb" text-anchor="end" transform="translate(803.9 2271.3) scale(0.6245 1)">G-&gt;A</text>
<text class="lb" text-anchor="end" transform="translate(803.9 2307.1) scale(0.6245 1)">A-&gt;G</text>
<text class="lb" text-anchor="end" transform="translate(803.9 2343.9) scale(0.6245 1)">C-&gt;A</text>
<text class="lb" text-anchor="end" transform="translate(803.9 2380.2) scale(0.6245 1)">G-&gt;A</text>
<text class="lb" text-anchor="end" transform="translate(803.9 2448) scale(0.6245 1)">G-&gt;T</text>
<text class="lb" text-anchor="end" transform="translate(803.9 2525.4) scale(0.6245 1)">C-&gt;T</text>
<text class="lb" text-anchor="end" transform="translate(803.9 2561.9) scale(0.6245 1)">C-&gt;A</text>
<text class="lb" text-anchor="end" transform="translate(803.9 2598.5) scale(0.6245 1)">T-&gt;TTAC</text>
<text class="lb" text-anchor="end" transform="translate(803.9 2635) scale(0.6245 1)">C-&gt;T</text>
<text class="lb" text-anchor="end" transform="translate(803.9 2671.5) scale(0.6245 1)">C-&gt;G</text>
<text class="lb" text-anchor="end" transform="translate(803.9 2708.1) scale(0.6245 1)">C-&gt;G</text>
<text class="lb" text-anchor="end" transform="translate(803.9 2744.6) scale(0.6245 1)">T-&gt;C</text>
<text class="lb" text-anchor="end" transform="translate(803.9 2781.1) scale(0.6245 1)">G-&gt;A</text>
<text class="lb" text-anchor="end" transform="translate(803.9 2817.6) scale(0.6245 1)">C-&gt;T</text>
<text class="lb" text-anchor="end" transform="translate(803.9 2854.2) scale(0.6245 1)">C-&gt;T</text>
<text class="lb" text-anchor="end" transform="translate(803.9 2890.7) scale(0.6245 1)">C-&gt;A</text>
<text class="lb" text-anchor="end" transform="translate(803.9 2927.2) scale(0.6245 1)">C-&gt;T</text>
<text class="lb" text-anchor="end" transform="translate(803.9 2963.8) scale(0.6245 1)">T-&gt;TCAGCTG</text>
<text class="lb" text-anchor="end" transform="translate(803.9 3000.3) scale(0.6245 1)">C-&gt;T</text>
<text class="lb" text-anchor="end" transform="translate(803.9 3036.8) scale(0.6245 1)">C-&gt;A</text>
<text class="lb" text-anchor="end" transform="translate(803.9 3073.3) scale(0.6245 1)">G-&gt;T</text>
<text class="lb" text-anchor="end" transform="translate(803.9 3109.9) scale(0.6245 1)">C-&gt;T</text>
<text class="lb" text-anchor="end" transform="translate(803.9 3146.4) scale(0.6245 1)">C-&gt;T</text>
<text class="lb" text-anchor="end" transform="translate(803.9 3182.9) scale(0.6245 1)">C-&gt;T</text>
<text class="lb" transform="translate(926.9 1985.6) scale(0.6245 1)">C-&gt;T</text>
<text class="lb" transform="translate(926.9 2021.4) scale(0.6245 1)">C-&gt;A</text>
<text class="lb" transform="translate(926.9 2058.2) scale(0.6245 1)">C-&gt;A</text>
<text class="lb" transform="translate(926.9 2094.4) scale(0.6245 1)">A-&gt;T</text>
<text class="lb" transform="translate(926.9 2235) scale(0.6245 1)">A-&gt;G</text>
<text class="lb" transform="translate(926.9 2270.8) scale(0.6245 1)">T-&gt;C</text>
<text class="lb" transform="translate(926.9 2307.1) scale(0.6245 1)">C-&gt;T</text>
<text class="lb" transform="translate(926.9 2343.9) scale(0.6245 1)">A-&gt;G</text>
<text class="lb" transform="translate(926.9 2380.2) scale(0.6245 1)">G-&gt;A</text>
<text class="lb" transform="translate(926.9 2448) scale(0.6245 1)">A-&gt;G</text>
<text class="lb" transform="translate(926.9 2525.4) scale(0.6245 1)">C-&gt;T</text>
<text class="lb" transform="translate(926.9 2561.9) scale(0.6245 1)">C-&gt;A</text>
<text class="lb" transform="translate(926.9 2598.5) scale(0.6245 1)">T-&gt;C</text>
<text class="lb" transform="translate(926.9 2635) scale(0.6245 1)">A-&gt;G</text>
<text class="lb" transform="translate(926.9 2671.5) scale(0.6245 1)">G-&gt;C</text>
<text class="lb" transform="translate(926.9 2708.1) scale(0.6245 1)">G-&gt;A</text>
<text class="lb" transform="translate(926.9 2744.6) scale(0.6245 1)">C-&gt;T</text>
<text class="lb" transform="translate(926.9 2781.1) scale(0.6245 1)">A-&gt;T</text>
<text class="lb" transform="translate(926.9 2817.6) scale(0.6245 1)">A-&gt;G</text>
<text class="lb" transform="translate(926.9 2854.2) scale(0.6245 1)">C-&gt;T</text>
<text class="lb" transform="translate(926.9 2890.7) scale(0.6245 1)">T-&gt;C</text>
<text class="lb" transform="translate(926.9 2927.2) scale(0.6245 1)">G-&gt;A</text>
<text class="lb" transform="translate(926.9 2963.8) scale(0.6245 1)">C-&gt;T</text>
<text class="lb" transform="translate(926.9 3000.3) scale(0.6245 1)">C-&gt;T</text>
<text class="lb" transform="translate(926.9 3036.8) scale(0.6245 1)">G-&gt;C</text>
<text class="lb" transform="translate(926.9 3073.3) scale(0.6245 1)">T-&gt;C</text>
<text class="lb" transform="translate(926.9 3109.9) scale(0.6245 1)">G-&gt;A</text>
<text class="lb" transform="translate(926.9 3146.4) scale(0.6245 1)">A-&gt;G</text>
</g>
<g class="chrom" id="A08">
<text class="ti" text-anchor="middle" transform="translate(1337.4 1789.8) scale(0.675 1)">A08</text>
<g class="in"><path d="M1325.7 1937.4H1349.1"/><path d="M1325.7 1944.7H1349.1"/><path d="M1325.7 2034.3H1349.1"/><path d="M1325.7 2047.6H1349.1"/><path d="M1325.7 2147.6H1349.1"/><path d="M1325.7 2169.9H1349.1"/><path d="M1325.7 2198.9H1349.1"/><path d="M1325.7 2218.3H1349.1"/><path d="M1325.7 2244.9H1349.1"/><path d="M1325.7 2244.9H1349.1"/><path d="M1325.7 2244.9H1349.1"/><path d="M1325.7 2244.9H1349.1"/><path d="M1325.7 2329H1349.1"/><path d="M1325.7 2560.8H1349.1"/><path d="M1325.7 1937.4H1349.1"/><path d="M1325.7 1944.7H1349.1"/><path d="M1325.7 2040.3H1349.1"/><path d="M1325.7 2052H1349.1"/><path d="M1325.7 2147.6H1349.1"/><path d="M1325.7 2180.8H1349.1"/><path d="M1325.7 2198.9H1349.1"/><path d="M1325.7 2245H1349.1"/><path d="M1325.7 2245H1349.1"/><path d="M1325.7 2245H1349.1"/><path d="M1325.7 2245H1349.1"/><path d="M1325.7 2245H1349.1"/><path d="M1325.7 2332H1349.1"/><path d="M1325.7 2616H1349.1"/></g>
<g class="cn"><path d="M1278.1 1958H1292.8L1310.7 1937.4H1325.7"/><path d="M1278.1 1993.8H1292.8L1310.7 1944.7H1325.7"/><path d="M1278.1 2030.7H1292.8L1310.7 2034.3H1325.7"/><path d="M1278.1 2067H1292.8L1310.7 2047.6H1325.7"/><path d="M1278.1 2147.6H1292.8L1310.7 2147.6H1325.7"/><path d="M1278.1 2183.9H1292.8L1310.7 2169.9H1325.7"/><path d="M1278.1 2220.7H1292.8L1310.7 2198.9H1325.7"/><path d="M1278.1 2257H1292.8L1310.7 2218.3H1325.7"/><path d="M1278.1 2293.4H1292.8L1310.7 2244.9H1325.7"/><path d="M1278.1 2330.3H1292.8L1310.7 2244.9H1325.7"/><path d="M1278.1 2366.6H1292.8L1310.7 2244.9H1325.7"/><path d="M1278.1 2403.6H1292.8L1310.7 2244.9H1325.7"/><path d="M1278.1 2440H1292.8L1310.7 2329H1325.7"/><path d="M1278.1 2560.8H1292.8L1310.7 2560.8H1325.7"/><path d="M1395.7 1958H1381L1363.1 1937.4H1349.1"/><path d="M1395.7 1993.8H1381L1363.1 1944.7H1349.1"/><path d="M1395.7 2030.7H1381L1363.1 2040.3H1349.1"/><path d="M1395.7 2067H1381L1363.1 2052H1349.1"/><path d="M1395.7 2147.6H1381L1363.1 2147.6H1349.1"/><path d="M1395.7 2183.9H1381L1363.1 2180.8H1349.1"/><path d="M1395.7 2220.7H1381L1363.1 2198.9H1349.1"/><path d="M1395.7 2257H1381L1363.1 2245H1349.1"/><path d="M1395.7 2293.4H1381L1363.1 2245H1349.1"/><path d="M1395.7 2330.3H1381L1363.1 2245H1349.1"/><path d="M1395.7 2366.6H1381L1363.1 2245H1349.1"/><path d="M1395.7 2403.6H1381L1363.1 2245H1349.1"/><path d="M1395.7 2440H1381L1363.1 2332H1349.1"/><path d="M1395.7 2616H1381L1363.1 2616H1349.1"/></g>
<path class="ch" d="M1325.7 1890.3A11.7 56 0 0 1 1349.1 1890.3V2570.2A11.7 56 0 0 1 1325.7 2570.2Z"/>
<text class="lb" text-anchor="end" transform="translate(1275.4 1974.4) scale(0.6245 1)">C-&gt;T</text>
<text class="lb" text-anchor="end" transform="translate(1275.4 2010.2) scale(0.6245 1)">T-&gt;G</text>
<text class="lb" text-anchor="end" transform="translate(1275.4 2047.1) scale(0.6245 1)">G-&gt;C</text>
<text class="lb" text-anchor="end" transform="translate(1275.4 2083.4) scale(0.6245 1)">T-&gt;C</text>
<text class="lb" text-anchor="end" transform="translate(1275.4 2164) scale(0.6245 1)">GGCTG...-&gt;G</text>
<text class="lb" text-anchor="end" transform="translate(1275.4 2200.3) scale(0.6245 1)">AGC-&gt;A</text>
<text class="lb" text-anchor="end" transform="translate(1275.4 2237.1) scale(0.6245 1)">A-&gt;G</text>
<text class="lb" text-anchor="end" transform="translate(1275.4 2273.4) scale(0.6245 1)">G-&gt;C</text>
<text class="lb" text-anchor="end" transform="translate(1275.4 2309.8) scale(0.6245 1)">C-&gt;G</text>
<text class="lb" text-anchor="end" transform="translate(1275.4 2346.7) scale(0.6245 1)">T-&gt;C</text>
<text class="lb" text-anchor="end" transform="translate(1275.4 2383) scale(0.6245 1)">C-&gt;G</text>
<text class="lb" text-anchor="end" transform="translate(1275.4 2420) scale(0.6245 1)">G-&gt;A</text>
<text class="lb" text-anchor="end" transform="translate(1275.4 2456.4) scale(0.6245 1)">C-&gt;T</text>
<text class="lb" text-anchor="end" transform="translate(1275.4 2577.2) scale(0.6245 1)">T-&gt;C</text>
<text class="lb" transform="translate(1398.4 1974.4) scale(0.6245 1)">T-&gt;A</text>
<text class="lb" transform="translate(1398.4 2010.2) scale(0.6245 1)">C-&gt;T</text>
<text class="lb" transform="translate(1398.4 2047.1) scale(0.6245 1)">C-&gt;T</text>
<text class="lb" transform="translate(1398.4 2083.4) scale(0.6245 1)">G-&gt;A</text>
<text class="lb" transform="translate(1398.4 2164) scale(0.6245 1)">A-&gt;C</text>
<text class="lb" transform="translate(1398.4 2200.3) scale(0.6245 1)">G-&gt;A</text>
<text class="lb" transform="translate(1398.4 2237.1) scale(0.6245 1)">C-&gt;G</text>
<text class="lb" transform="translate(1398.4 2273.4) scale(0.6245 1)">C-&gt;T</text>
<text class="lb" transform="translate(1398.4 2309.8) scale(0.6245 1)">C-&gt;T</text>
<text class="lb" transform="translate(1398.4 2346.7) scale(0.6245 1)">C-&gt;G</text>
<text class="lb" transform="translate(1398.4 2383) scale(0.6245 1)">G-&gt;C</text>
<text class="lb" transform="translate(1398.4 2420) scale(0.6245 1)">T-&gt;A</text>
<text class="lb" transform="translate(1398.4 2456.4) scale(0.6245 1)">T-&gt;G</text>
<text class="lb" transform="translate(1398.4 2632.4) scale(0.6245 1)">C-&gt;A</text>
</g>
<g class="chrom" id="A09">
<text class="ti" text-anchor="middle" transform="translate(1808.8 1789.8) scale(0.675 1)">A09</text>
<g class="in"><path d="M1797.1 1870.8H1820.5"/><path d="M1797.1 1890.2H1820.5"/><path d="M1797.1 1891.4H1820.5"/><path d="M1797.1 2007.6H1820.5"/><path d="M1797.1 2114.2H1820.5"/><path d="M1797.1 2114.2H1820.5"/><path d="M1797.1 2133.6H1820.5"/><path d="M1797.1 2140.8H1820.5"/><path d="M1797.1 2140.8H1820.5"/><path d="M1797.1 2210.6H1820.5"/><path d="M1797.1 2210.6H1820.5"/><path d="M1797.1 2210.6H1820.5"/><path d="M1797.1 2236.9H1820.5"/><path d="M1797.1 2236.9H1820.5"/><path d="M1797.1 2281.3H1820.5"/><path d="M1797.1 2281.3H1820.5"/><path d="M1797.1 2281.3H1820.5"/><path d="M1797.1 2343H1820.5"/><path d="M1797.1 2424.6H1820.5"/><path d="M1797.1 2464.8H1820.5"/><path d="M1797.1 2493.8H1820.5"/><path d="M1797.1 2565H1820.5"/><path d="M1797.1 2631H1820.5"/><path d="M1797.1 2661H1820.5"/><path d="M1797.1 2719.5H1820.5"/><path d="M1797.1 3014.4H1820.5"/><path d="M1797.1 3076.6H1820.5"/><path d="M1797.1 3076.6H1820.5"/><path d="M1797.1 3076.6H1820.5"/><path d="M1797.1 3107.4H1820.5"/><path d="M1797.1 3150H1820.5"/><path d="M1797.1 3151H1820.5"/><path d="M1797.1 3162.6H1820.5"/><path d="M1797.1 3217.8H1820.5"/><path d="M1797.1 1870.8H1820.5"/><path d="M1797.1 1890.2H1820.5"/><path d="M1797.1 1900.6H1820.5"/><path d="M1797.1 2018.5H1820.5"/><path d="M1797.1 2114.2H1820.5"/><path d="M1797.1 2114.2H1820.5"/><path d="M1797.1 2140.8H1820.5"/><path d="M1797.1 2140.8H1820.5"/><path d="M1797.1 2191.7H1820.5"/><path d="M1797.1 2210.6H1820.5"/><path d="M1797.1 2210.6H1820.5"/><path d="M1797.1 2210.6H1820.5"/><path d="M1797.1 2281.3H1820.5"/><path d="M1797.1 2281.3H1820.5"/><path d="M1797.1 2281.3H1820.5"/><path d="M1797.1 2306.7H1820.5"/><path d="M1797.1 2306.7H1820.5"/><path d="M1797.1 2413.2H1820.5"/><path d="M1797.1 2424.6H1820.5"/><path d="M1797.1 2464.8H1820.5"/><path d="M1797.1 2521H1820.5"/><path d="M1797.1 2591H1820.5"/><path d="M1797.1 2631H1820.5"/><path d="M1797.1 2719.5H1820.5"/><path d="M1797.1 3012.4H1820.5"/><path d="M1797.1 3014.4H1820.5"/><path d="M1797.1 3076.6H1820.5"/><path d="M1797.1 3076.6H1820.5"/><path d="M1797.1 3076.6H1820.5"/><path d="M1797.1 3107.4H1820.5"/><path d="M1797.1 3150H1820.5"/><path d="M1797.1 3151H1820.5"/><path d="M1797.1 3162.6H1820.5"/><path d="M1797.1 3217.8H1820.5"/></g>
<g class="cn"><path d="M1749.5 1891H1764.2L1782.1 1870.8H1797.1"/><path d="M1749.5 1927.5H1764.2L1782.1 1890.2H1797.1"/><path d="M1749.5 1964.1H1764.2L1782.1 1891.4H1797.1"/><path d="M1749.5 2000.6H1764.2L1782.1 2007.6H1797.1"/><path d="M1749.5 2037.1H1764.2L1782.1 2114.2H1797.1"/><path d="M1749.5 2073.7H1764.2L1782.1 2114.2H1797.1"/><path d="M1749.5 2110.2H1764.2L1782.1 2133.6H1797.1"/><path d="M1749.5 2146.7H1764.2L1782.1 2140.8H1797.1"/><path d="M1749.5 2183.2H1764.2L1782.1 2140.8H1797.1"/><path d="M1749.5 2219.8H1764.2L1782.1 2210.6H1797.1"/><path d="M1749.5 2256.3H1764.2L1782.1 2210.6H1797.1"/><path d="M1749.5 2292.8H1764.2L1782.1 2210.6H1797.1"/><path d="M1749.5 2329.4H1764.2L1782.1 2236.9H1797.1"/><path d="M1749.5 2365.9H1764.2L1782.1 2236.9H1797.1"/><path d="M1749.5 2402.4H1764.2L1782.1 2281.3H1797.1"/><path d="M1749.5 2438.9H1764.2L1782.1 2281.3H1797.1"/><path d="M1749.5 2475.5H1764.2L1782.1 2281.3H1797.1"/><path d="M1749.5 2512H1764.2L1782.1 2343H1797.1"/><path d="M1749.5 2548.5H1764.2L1782.1 2424.6H1797.1"/><path d="M1749.5 2585.1H1764.2L1782.1 2464.8H1797.1"/><path d="M1749.5 2621.6H1764.2L1782.1 2493.8H1797.1"/><path d="M1749.5 2658.1H1764.2L1782.1 2565H1797.1"/><path d="M1749.5 2694.7H1764.2L1782.1 2631H1797.1"/><path d="M1749.5 2731.2H1764.2L1782.1 2661H1797.1"/><path d="M1749.5 2767.7H1764.2L1782.1 2719.5H1797.1"/><path d="M1749.5 2804.2H1764.2L1782.1 3014.4H1797.1"/><path d="M1749.5 2840.8H1764.2L1782.1 3076.6H1797.1"/><path d="M1749.5 2877.3H1764.2L1782.1 3076.6H1797.1"/><path d="M1749.5 2913.8H1764.2L1782.1 3076.6H1797.1"/><path d="M1749.5 2950.4H1764.2L1782.1 3107.4H1797.1"/><path d="M1749.5 2986.9H1764.2L1782.1 3150H1797.1"/><path d="M1749.5 3023.4H1764.2L1782.1 3151H1797.1"/><path d="M1749.5 3060H1764.2L1782.1 3162.6H1797.1"/><path d="M1749.5 3096.5H1764.2L1782.1 3217.8H1797.1"/><path d="M1867.1 1891H1852.4L1834.5 1870.8H1820.5"/><path d="M1867.1 1927.5H1852.4L1834.5 1890.2H1820.5"/><path d="M1867.1 1964.1H1852.4L1834.5 1900.6H1820.5"/><path d="M1867.1 2000.6H1852.4L1834.5 2018.5H1820.5"/><path d="M1867.1 2037.1H1852.4L1834.5 2114.2H1820.5"/><path d="M1867.1 2073.7H1852.4L1834.5 2114.2H1820.5"/><path d="M1867.1 2110.2H1852.4L1834.5 2140.8H1820.5"/><path d="M1867.1 2146.7H1852.4L1834.5 2140.8H1820.5"/><path d="M1867.1 2183.2H1852.4L1834.5 2191.7H1820.5"/><path d="M1867.1 2219.8H1852.4L1834.5 2210.6H1820.5"/><path d="M1867.1 2256.3H1852.4L1834.5 2210.6H1820.5"/><path d="M1867.1 2292.8H1852.4L1834.5 2210.6H1820.5"/><path d="M1867.1 2329.4H1852.4L1834.5 2281.3H1820.5"/><path d="M1867.1 2365.9H1852.4L1834.5 2281.3H1820.5"/><path d="M1867.1 2402.4H1852.4L1834.5 2281.3H1820.5"/><path d="M1867.1 2438.9H1852.4L1834.5 2306.7H1820.5"/><path d="M1867.1 2475.5H1852.4L1834.5 2306.7H1820.5"/><path d="M1867.1 2512H1852.4L1834.5 2413.2H1820.5"/><path d="M1867.1 2548.5H1852.4L1834.5 2424.6H1820.5"/><path d="M1867.1 2585.1H1852.4L1834.5 2464.8H1820.5"/><path d="M1867.1 2621.6H1852.4L1834.5 2521H1820.5"/><path d="M1867.1 2658.1H1852.4L1834.5 2591H1820.5"/><path d="M1867.1 2694.7H1852.4L1834.5 2631H1820.5"/><path d="M1867.1 2731.2H1852.4L1834.5 2719.5H1820.5"/><path d="M1867.1 2767.7H1852.4L1834.5 3012.4H1820.5"/><path d="M1867.1 2804.2H1852.4L1834.5 3014.4H1820.5"/><path d="M1867.1 2840.8H1852.4L1834.5 3076.6H1820.5"/><path d="M1867.1 2877.3H1852.4L1834.5 3076.6H1820.5"/><path d="M1867.1 2913.8H1852.4L1834.5 3076.6H1820.5"/><path d="M1867.1 2950.4H1852.4L1834.5 3107.4H1820.5"/><path d="M1867.1 2986.9H1852.4L1834.5 3150H1820.5"/><path d="M1867.1 3023.4H1852.4L1834.5 3151H1820.5"/><path d="M1867.1 3060H1852.4L1834.5 3162.6H1820.5"/><path d="M1867.1 3096.5H1852.4L1834.5 3217.8H1820.5"/></g>
<path class="ch" d="M1797.1 1890.3A11.7 56 0 0 1 1820.5 1890.3V3216.2A11.7 56 0 0 1 1797.1 3216.2Z"/>
<text class="lb" text-anchor="end" transform="translate(1746.8 1907.4) scale(0.6245 1)">T-&gt;TC</text>
<text class="lb" text-anchor="end" transform="translate(1746.8 1943.9) scale(0.6245 1)">C-&gt;G</text>
<text class="lb" text-anchor="end" transform="translate(1746.8 1980.5) scale(0.6245 1)">C-&gt;T</text>
<text class="lb" text-anchor="end" transform="translate(1746.8 2017) scale(0.6245 1)">G-&gt;A</text>
<text class="lb" text-anchor="end" transform="translate(1746.8 2053.5) scale(0.6245 1)">T-&gt;C</text>
<text class="lb" text-anchor="end" transform="translate(1746.8 2090.1) scale(0.6245 1)">T-&gt;C</text>
<text class="lb" text-anchor="end" transform="translate(1746.8 2126.6) scale(0.6245 1)">G-&gt;A</text>
<text class="lb" text-anchor="end" transform="translate(1746.8 2163.1) scale(0.6245 1)">G-&gt;A</text>
<text class="lb" text-anchor="end" transform="translate(1746.8 2199.6) scale(0.6245 1)">C-&gt;A</text>
<text class="lb" text-anchor="end" transform="translate(1746.8 2236.2) scale(0.6245 1)">G-&gt;T</text>
<text class="lb" text-anchor="end" transform="translate(1746.8 2272.7) scale(0.6245 1)">C-&gt;T</text>
<text class="lb" text-anchor="end" transform="translate(1746.8 2309.2) scale(0.6245 1)">C-&gt;T</text>
<text class="lb" text-anchor="end" transform="translate(1746.8 2345.8) scale(0.6245 1)">C-&gt;A</text>
<text class="lb" text-anchor="end" transform="translate(1746.8 2382.3) scale(0.6245 1)">T-&gt;C</text>
<text class="lb" text-anchor="end" transform="translate(1746.8 2418.8) scale(0.6245 1)">T-&gt;C</text>
<text class="lb" text-anchor="end" transform="translate(1746.8 2455.3) scale(0.6245 1)">T-&gt;A</text>
<text class="lb" text-anchor="end" transform="translate(1746.8 2491.9) scale(0.6245 1)">C-&gt;G</text>
<text class="lb" text-anchor="end" transform="translate(1746.8 2528.4) scale(0.6245 1)">A-&gt;G</text>
<text class="lb" text-anchor="end" transform="translate(1746.8 2564.9) scale(0.6245 1)">G-&gt;A</text>
<text class="lb" text-anchor="end" transform="translate(1746.8 2601.5) scale(0.6245 1)">C-&gt;T</text>
<text class="lb" text-anchor="end" transform="translate(1746.8 2638) scale(0.6245 1)">T-&gt;G</text>
<text class="lb" text-anchor="end" transform="translate(1746.8 2674.5) scale(0.6245 1)">G-&gt;A</text>
<text class="lb" text-anchor="end" transform="translate(1746.8 2711.1) scale(0.6245 1)">A-&gt;G</text>
<text class="lb" text-anchor="end" transform="translate(1746.8 2747.6) scale(0.6245 1)">T-&gt;C</text>
<text class="lb" text-anchor="end" transform="translate(1746.8 2784.1) scale(0.6245 1)">A-&gt;G</text>
<text class="lb" text-anchor="end" transform="translate(1746.8 2820.6) scale(0.6245 1)">C-&gt;T</text>
<text class="lb" text-anchor="end" transform="translate(1746.8 2857.2) scale(0.6245 1)">C-&gt;T</text>
<text class="lb" text-anchor="end" transform="translate(1746.8 2893.7) scale(0.6245 1)">G-&gt;A</text>
<text class="lb" text-anchor="end" transform="translate(1746.8 2930.2) scale(0.6245 1)">T-&gt;G</text>
<text class="lb" text-anchor="end" transform="translate(1746.8 2966.8) scale(0.6245 1)">A-&gt;G</text>
<text class="lb" text-anchor="end" transform="translate(1746.8 3003.3) scale(0.6245 1)">T-&gt;C</text>
<text class="lb" text-anchor="end" transform="translate(1746.8 3039.8) scale(0.6245 1)">A-&gt;T</text>
<text class="lb" text-anchor="end" transform="translate(1746.8 3076.4) scale(0.6245 1)">C-&gt;T</text>
<text class="lb" text-anchor="end" transform="translate(1746.8 3112.9) scale(0.6245 1)">G-&gt;A</text>
<text class="lb" transform="translate(1869.8 1907.4) scale(0.6245 1)">A-&gt;T</text>
<text class="lb" transform="translate(1869.8 1943.9) scale(0.6245 1)">A-&gt;G</text>
<text class="lb" transform="translate(1869.8 1980.5) scale(0.6245 1)">C-&gt;T</text>
<text class="lb" transform="translate(1869.8 2017) scale(0.6245 1)">GT-&gt;G</text>
<text class="lb" transform="translate(1869.8 2053.5) scale(0.6245 1)">T-&gt;A</text>
<text class="lb" transform="translate(1869.8 2090.1) scale(0.6245 1)">C-&gt;A</text>
<text class="lb" transform="translate(1869.8 2126.6) scale(0.6245 1)">CGGT-&gt;C</text>
<text class="lb" transform="translate(1869.8 2163.1) scale(0.6245 1)">G-&gt;A</text>
<text class="lb" transform="translate(1869.8 2199.6) scale(0.6245 1)">G-&gt;T</text>
<text class="lb" transform="translate(1869.8 2236.2) scale(0.6245 1)">G-&gt;A</text>
<text class="lb" transform="translate(1869.8 2272.7) scale(0.6245 1)">G-&gt;A</text>
<text class="lb" transform="translate(1869.8 2309.2) scale(0.6245 1)">C-&gt;T</text>
<text class="lb" transform="translate(1869.8 2345.8) scale(0.6245 1)">G-&gt;T</text>
<text class="lb" transform="translate(1869.8 2382.3) scale(0.6245 1)">G-&gt;C</text>
<text class="lb" transform="translate(1869.8 2418.8) scale(0.6245 1)">C-&gt;G</text>
<text class="lb" transform="translate(1869.8 2455.3) scale(0.6245 1)">C-&gt;A</text>
<text class="lb" transform="translate(1869.8 2491.9) scale(0.6245 1)">CCTCCTA-&gt;C</text>
<text class="lb" transform="translate(1869.8 2528.4) scale(0.6245 1)">G-&gt;A</text>
<text class="lb" transform="translate(1869.8 2564.9) scale(0.6245 1)">T-&gt;A</text>
<text class="lb" transform="translate(1869.8 2601.5) scale(0.6245 1)">C-&gt;A</text>
<text class="lb" transform="translate(1869.8 2638) scale(0.6245 1)">A-&gt;T</text>
<text class="lb" transform="translate(1869.8 2674.5) scale(0.6245 1)">T-&gt;C</text>
<text class="lb" transform="translate(1869.8 2711.1) scale(0.6245 1)">C-&gt;T</text>
<text class="lb" transform="translate(1869.8 2747.6) scale(0.6245 1)">T-&gt;A</text>
<text class="lb" transform="translate(1869.8 2784.1) scale(0.6245 1)">C-&gt;A</text>
<text class="lb" transform="translate(1869.8 2820.6) scale(0.6245 1)">A-&gt;C</text>
<text class="lb" transform="translate(1869.8 2857.2) scale(0.6245 1)">A-&gt;G</text>
<text class="lb" transform="translate(1869.8 2893.7) scale(0.6245 1)">T-&gt;C</text>
<text class="lb" transform="translate(1869.8 2930.2) scale(0.6245 1)">C-&gt;G</text>
<text class="lb" transform="translate(1869.8 2966.8) scale(0.6245 1)">T-&gt;A</text>
<text class="lb" transform="translate(1869.8 3003.3) scale(0.6245 1)">A-&gt;AGCATG</text>
<text class="lb" transform="translate(1869.8 3039.8) scale(0.6245 1)">G-&gt;C</text>
<text class="lb" transform="translate(1869.8 3076.4) scale(0.6245 1)">C-&gt;A</text>
<text class="lb" transform="translate(1869.8 3112.9) scale(0.6245 1)">G-&gt;A</text>
</g>
<g class="chrom" id="A10">
<text class="ti" text-anchor="middle" transform="translate(2280.2 1789.8) scale(0.675 1)">A10</text>
<g class="in"><path d="M2268.5 1837.5H2291.9"/><path d="M2268.5 1873.8H2291.9"/><path d="M2268.5 2022.3H2291.9"/><path d="M2268.5 2095.9H2291.9"/><path d="M2268.5 2158.8H2291.9"/><path d="M2268.5 2314H2291.9"/><path d="M2268.5 2324.8H2291.9"/><path d="M2268.5 2406.4H2291.9"/><path d="M2268.5 2406.4H2291.9"/><path d="M2268.5 2406.4H2291.9"/><path d="M2268.5 2428.2H2291.9"/><path d="M2268.5 1849.2H2291.9"/><path d="M2268.5 2022.3H2291.9"/><path d="M2268.5 2026.4H2291.9"/><path d="M2268.5 2144.3H2291.9"/><path d="M2268.5 2158.8H2291.9"/><path d="M2268.5 2324.8H2291.9"/><path d="M2268.5 2407H2291.9"/><path d="M2268.5 2407H2291.9"/><path d="M2268.5 2407H2291.9"/><path d="M2268.5 2407H2291.9"/></g>
<g class="cn"><path d="M2220.9 1858H2235.6L2253.5 1837.5H2268.5"/><path d="M2220.9 1894H2235.6L2253.5 1873.8H2268.5"/><path d="M2220.9 2022.3H2235.6L2253.5 2022.3H2268.5"/><path d="M2220.9 2095.9H2235.6L2253.5 2095.9H2268.5"/><path d="M2220.9 2158.8H2235.6L2253.5 2158.8H2268.5"/><path d="M2220.9 2314H2235.6L2253.5 2314H2268.5"/><path d="M2220.9 2350.4H2235.6L2253.5 2324.8H2268.5"/><path d="M2220.9 2386.5H2235.6L2253.5 2406.4H2268.5"/><path d="M2220.9 2423.3H2235.6L2253.5 2406.4H2268.5"/><path d="M2220.9 2460.4H2235.6L2253.5 2406.4H2268.5"/><path d="M2220.9 2496.7H2235.6L2253.5 2428.2H2268.5"/><path d="M2338.5 1869.5H2323.8L2305.9 1849.2H2291.9"/><path d="M2338.5 2022.3H2323.8L2305.9 2022.3H2291.9"/><path d="M2338.5 2059H2323.8L2305.9 2026.4H2291.9"/><path d="M2338.5 2144.3H2323.8L2305.9 2144.3H2291.9"/><path d="M2338.5 2180.6H2323.8L2305.9 2158.8H2291.9"/><path d="M2338.5 2324.8H2323.8L2305.9 2324.8H2291.9"/><path d="M2338.5 2406.4H2323.8L2305.9 2407H2291.9"/><path d="M2338.5 2442.7H2323.8L2305.9 2407H2291.9"/><path d="M2338.5 2479.8H2323.8L2305.9 2407H2291.9"/><path d="M2338.5 2516H2323.8L2305.9 2407H2291.9"/></g>
<path class="ch" d="M2268.5 1890.3A11.7 56 0 0 1 2291.9 1890.3V2408.6A11.7 56 0 0 1 2268.5 2408.6Z"/>
<text class="lb" text-anchor="end" transform="translate(2218.2 1874.4) scale(0.6245 1)">AGG-&gt;A</text>
<text class="lb" text-anchor="end" transform="translate(2218.2 1910.4) scale(0.6245 1)">C-&gt;T</text>
<text class="lb" text-anchor="end" transform="translate(2218.2 2038.7) scale(0.6245 1)">A-&gt;T</text>
<text class="lb" text-anchor="end" transform="translate(2218.2 2112.3) scale(0.6245 1)">G-&gt;GA</text>
<text class="lb" text-anchor="end" transform="translate(2218.2 2175.2) scale(0.6245 1)">A-&gt;C</text>
<text class="lb" text-anchor="end" transform="translate(2218.2 2330.4) scale(0.6245 1)">C-&gt;A</text>
<text class="lb" text-anchor="end" transform="translate(2218.2 2366.8) scale(0.6245 1)">G-&gt;A</text>
<text class="lb" text-anchor="end" transform="translate(2218.2 2402.9) scale(0.6245 1)">A-&gt;C</text>
<text class="lb" text-anchor="end" transform="translate(2218.2 2439.7) scale(0.6245 1)">C-&gt;T</text>
<text class="lb" text-anchor="end" transform="translate(2218.2 2476.8) scale(0.6245 1)">G-&gt;C</text>
<text class="lb" text-anchor="end" transform="translate(2218.2 2513.1) scale(0.6245 1)">CCCCT-&gt;C</text>
<text class="lb" transform="translate(2341.2 1885.9) scale(0.6245 1)">G-&gt;A</text>
<text class="lb" transform="translate(2341.2 2038.7) scale(0.6245 1)">T-&gt;C</text>
<text class="lb" transform="translate(2341.2 2075.4) scale(0.6245 1)">T-&gt;C</text>
<text class="lb" transform="translate(2341.2 2160.7) scale(0.6245 1)">G-&gt;A</text>
<text class="lb" transform="translate(2341.2 2197) scale(0.6245 1)">G-&gt;A</text>
<text class="lb" transform="translate(2341.2 2341.2) scale(0.6245 1)">T-&gt;C</text>
<text class="lb" transform="translate(2341.2 2422.8) scale(0.6245 1)">G-&gt;A</text>
<text class="lb" transform="translate(2341.2 2459.1) scale(0.6245 1)">A-&gt;G</text>
<text class="lb" transform="translate(2341.2 2496.2) scale(0.6245 1)">G-&gt;A</text>
<text class="lb" transform="translate(2341.2 2532.4) scale(0.6245 1)">G-&gt;A</text>
</g>
</g></svg></body></html>
